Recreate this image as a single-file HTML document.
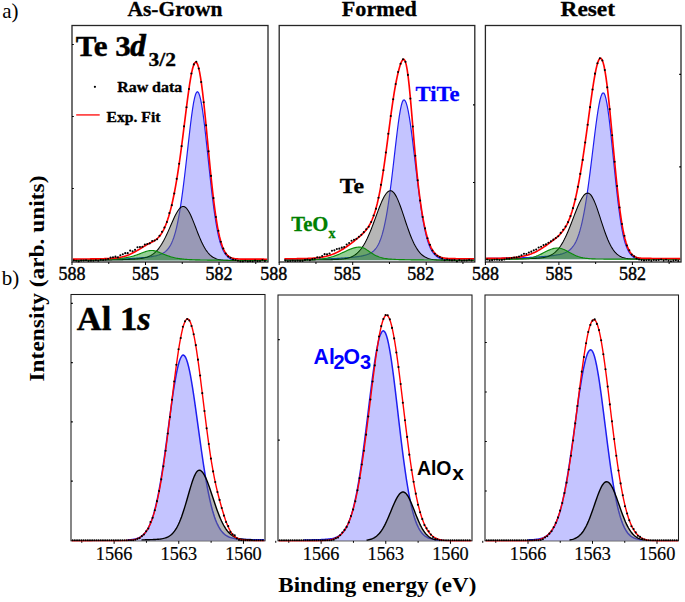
<!DOCTYPE html>
<html><head><meta charset="utf-8"><style>html,body{margin:0;padding:0;background:#fff;width:685px;height:602px;overflow:hidden}svg{display:block}</style></head>
<body>
<svg width="685" height="602" viewBox="0 0 685 602">
<rect width="685" height="602" fill="#fff"/>
<rect x="72.0" y="25.5" width="196" height="236.5" fill="none" stroke="#262626" stroke-width="1.3"/>
<path d="M72,262 v3.0 M108.75,262 v2 M145.5,262 v3.0 M182.25,262 v2 M219,262 v3.0 M255.75,262 v2" stroke="#000" stroke-width="1"/>
<path d="M72,188.5 h1.8 M72,116.5 h1.8 M72,44.5 h1.8" stroke="#000" stroke-width="1.2"/>
<clipPath id="cT1"><rect x="72.6" y="26.1" width="194.8" height="236.7"/></clipPath>
<g clip-path="url(#cT1)"><path d="M72.6,259.94 L73.6,259.93 L74.6,259.92 L75.6,259.91 L76.6,259.9 L77.6,259.89 L78.6,259.88 L79.6,259.87 L80.6,259.86 L81.6,259.85 L82.6,259.84 L83.6,259.82 L84.6,259.81 L85.6,259.8 L86.6,259.79 L87.6,259.77 L88.6,259.76 L89.6,259.75 L90.6,259.73 L91.6,259.72 L92.6,259.7 L93.6,259.69 L94.6,259.67 L95.6,259.66 L96.6,259.64 L97.6,259.62 L98.6,259.61 L99.6,259.59 L100.6,259.57 L101.6,259.55 L102.6,259.53 L103.6,259.51 L104.6,259.49 L105.6,259.47 L106.6,259.45 L107.6,259.42 L108.6,259.4 L109.6,259.37 L110.6,259.35 L111.6,259.32 L112.6,259.29 L113.6,259.27 L114.6,259.24 L115.6,259.21 L116.6,259.18 L117.6,259.14 L118.6,259.11 L119.6,259.07 L120.6,259.04 L121.6,259 L122.6,258.96 L123.6,258.92 L124.6,258.88 L125.6,258.83 L126.6,258.79 L127.6,258.74 L128.6,258.69 L129.6,258.64 L130.6,258.58 L131.6,258.53 L132.6,258.47 L133.6,258.4 L134.6,258.34 L135.6,258.27 L136.6,258.2 L137.6,258.13 L138.6,258.05 L139.6,257.97 L140.6,257.88 L141.6,257.79 L142.6,257.7 L143.6,257.6 L144.6,257.49 L145.6,257.38 L146.6,257.26 L147.6,257.14 L148.6,257.01 L149.6,256.87 L150.6,256.72 L151.6,256.56 L152.6,256.39 L153.6,256.2 L154.6,256 L155.6,255.79 L156.6,255.55 L157.6,255.28 L158.6,254.99 L159.6,254.66 L160.6,254.28 L161.6,253.86 L162.6,253.37 L163.6,252.8 L164.6,252.14 L165.6,251.37 L166.6,250.47 L167.6,249.41 L168.6,248.16 L169.6,246.7 L170.6,244.98 L171.6,242.98 L172.6,240.65 L173.6,237.96 L174.6,234.86 L175.6,231.31 L176.6,227.29 L177.6,222.75 L178.6,217.68 L179.6,212.06 L180.6,205.89 L181.6,199.17 L182.6,191.93 L183.6,184.2 L184.6,176.04 L185.6,167.53 L186.6,158.76 L187.6,149.86 L188.6,140.95 L189.6,132.21 L190.6,123.8 L191.6,115.94 L192.6,108.84 L193.6,102.72 L194.6,97.79 L195.6,94.24 L196.6,92.22 L197.6,91.81 L198.6,92.9 L199.6,95.42 L200.6,99.3 L201.6,104.44 L202.6,110.71 L203.6,117.97 L204.6,126.05 L205.6,134.75 L206.6,143.91 L207.6,153.33 L208.6,162.83 L209.6,172.26 L210.6,181.46 L211.6,190.31 L212.6,198.71 L213.6,206.57 L214.6,213.83 L215.6,220.47 L216.6,226.45 L217.6,231.79 L218.6,236.5 L219.6,240.39 L220.6,243.75 L221.6,246.65 L222.6,249.15 L223.6,251.26 L224.6,253.03 L225.6,254.5 L226.6,255.7 L227.6,256.68 L228.6,257.6 L229.6,258.33 L230.6,258.9 L231.6,259.33 L232.6,259.66 L233.6,259.91 L234.6,260.08 L235.6,260.2 L236.6,260.28 L237.6,260.35 L238.6,260.39 L239.6,260.42 L240.6,260.45 L241.6,260.46 L242.6,260.48 L243.6,260.48 L244.6,260.49 L245.6,260.49 L246.6,260.5 L247.6,260.5 L248.6,260.5 L249.6,260.5 L250.6,260.5 L251.6,260.5 L252.6,260.5 L253.6,260.5 L254.6,260.5 L255.6,260.5 L256.6,260.5 L257.6,260.5 L258.6,260.5 L259.6,260.5 L260.6,260.5 L261.6,260.5 L262.6,260.5 L263.6,260.5 L264.6,260.5 L265.6,260.5 L266.6,260.5 L267.4,260.5 L267.4,260.5 L72.6,260.5 Z" fill="#c4c4ff"/>
<path d="M72.6,259.94 L73.6,259.93 L74.6,259.92 L75.6,259.91 L76.6,259.9 L77.6,259.89 L78.6,259.88 L79.6,259.87 L80.6,259.86 L81.6,259.85 L82.6,259.84 L83.6,259.82 L84.6,259.81 L85.6,259.8 L86.6,259.79 L87.6,259.77 L88.6,259.76 L89.6,259.75 L90.6,259.73 L91.6,259.72 L92.6,259.7 L93.6,259.69 L94.6,259.67 L95.6,259.66 L96.6,259.64 L97.6,259.62 L98.6,259.61 L99.6,259.59 L100.6,259.57 L101.6,259.55 L102.6,259.53 L103.6,259.51 L104.6,259.49 L105.6,259.47 L106.6,259.45 L107.6,259.42 L108.6,259.4 L109.6,259.37 L110.6,259.35 L111.6,259.32 L112.6,259.29 L113.6,259.27 L114.6,259.24 L115.6,259.21 L116.6,259.18 L117.6,259.14 L118.6,259.11 L119.6,259.07 L120.6,259.04 L121.6,259 L122.6,258.96 L123.6,258.92 L124.6,258.88 L125.6,258.83 L126.6,258.79 L127.6,258.74 L128.6,258.69 L129.6,258.64 L130.6,258.58 L131.6,258.53 L132.6,258.47 L133.6,258.4 L134.6,258.34 L135.6,258.27 L136.6,258.2 L137.6,258.13 L138.6,258.05 L139.6,257.97 L140.6,257.88 L141.6,257.79 L142.6,257.7 L143.6,257.6 L144.6,257.49 L145.6,257.38 L146.6,257.26 L147.6,257.14 L148.6,257.01 L149.6,256.87 L150.6,256.72 L151.6,256.56 L152.6,256.39 L153.6,256.2 L154.6,256 L155.6,255.79 L156.6,255.55 L157.6,255.28 L158.6,254.99 L159.6,254.66 L160.6,254.28 L161.6,253.86 L162.6,253.37 L163.6,252.8 L164.6,252.14 L165.6,251.37 L166.6,250.47 L167.6,249.41 L168.6,248.16 L169.6,246.7 L170.6,244.98 L171.6,242.98 L172.6,240.65 L173.6,237.96 L174.6,234.86 L175.6,231.31 L176.6,227.29 L177.6,222.75 L178.6,217.68 L179.6,212.06 L180.6,205.89 L181.6,199.17 L182.6,191.93 L183.6,184.2 L184.6,176.04 L185.6,167.53 L186.6,158.76 L187.6,149.86 L188.6,140.95 L189.6,132.21 L190.6,123.8 L191.6,115.94 L192.6,108.84 L193.6,102.72 L194.6,97.79 L195.6,94.24 L196.6,92.22 L197.6,91.81 L198.6,92.9 L199.6,95.42 L200.6,99.3 L201.6,104.44 L202.6,110.71 L203.6,117.97 L204.6,126.05 L205.6,134.75 L206.6,143.91 L207.6,153.33 L208.6,162.83 L209.6,172.26 L210.6,181.46 L211.6,190.31 L212.6,198.71 L213.6,206.57 L214.6,213.83 L215.6,220.47 L216.6,226.45 L217.6,231.79 L218.6,236.5 L219.6,240.39 L220.6,243.75 L221.6,246.65 L222.6,249.15 L223.6,251.26 L224.6,253.03 L225.6,254.5 L226.6,255.7 L227.6,256.68 L228.6,257.6 L229.6,258.33 L230.6,258.9 L231.6,259.33 L232.6,259.66 L233.6,259.91 L234.6,260.08 L235.6,260.2 L236.6,260.28 L237.6,260.35 L238.6,260.39 L239.6,260.42 L240.6,260.45 L241.6,260.46 L242.6,260.48 L243.6,260.48 L244.6,260.49 L245.6,260.49 L246.6,260.5 L247.6,260.5 L248.6,260.5 L249.6,260.5 L250.6,260.5 L251.6,260.5 L252.6,260.5 L253.6,260.5 L254.6,260.5 L255.6,260.5 L256.6,260.5 L257.6,260.5 L258.6,260.5 L259.6,260.5 L260.6,260.5 L261.6,260.5 L262.6,260.5 L263.6,260.5 L264.6,260.5 L265.6,260.5 L266.6,260.5 L267.4,260.5" fill="none" stroke="#1e1ef0" stroke-width="1.2"/>
<path d="M72.6,260.22 L73.6,260.22 L74.6,260.21 L75.6,260.21 L76.6,260.2 L77.6,260.2 L78.6,260.19 L79.6,260.19 L80.6,260.18 L81.6,260.17 L82.6,260.17 L83.6,260.16 L84.6,260.15 L85.6,260.15 L86.6,260.14 L87.6,260.13 L88.6,260.12 L89.6,260.12 L90.6,260.11 L91.6,260.1 L92.6,260.09 L93.6,260.08 L94.6,260.07 L95.6,260.06 L96.6,260.05 L97.6,260.04 L98.6,260.03 L99.6,260.02 L100.6,260.01 L101.6,260 L102.6,259.99 L103.6,259.98 L104.6,259.96 L105.6,259.95 L106.6,259.94 L107.6,259.92 L108.6,259.91 L109.6,259.89 L110.6,259.88 L111.6,259.86 L112.6,259.84 L113.6,259.82 L114.6,259.8 L115.6,259.78 L116.6,259.76 L117.6,259.74 L118.6,259.72 L119.6,259.7 L120.6,259.67 L121.6,259.65 L122.6,259.62 L123.6,259.59 L124.6,259.56 L125.6,259.53 L126.6,259.49 L127.6,259.46 L128.6,259.42 L129.6,259.38 L130.6,259.33 L131.6,259.29 L132.6,259.23 L133.6,259.18 L134.6,259.11 L135.6,259.04 L136.6,258.96 L137.6,258.88 L138.6,258.78 L139.6,258.66 L140.6,258.54 L141.6,258.39 L142.6,258.22 L143.6,258.03 L144.6,257.81 L145.6,257.55 L146.6,257.26 L147.6,256.93 L148.6,256.54 L149.6,256.1 L150.6,255.6 L151.6,255.04 L152.6,254.4 L153.6,253.67 L154.6,252.86 L155.6,251.96 L156.6,250.95 L157.6,249.84 L158.6,248.62 L159.6,247.28 L160.6,245.83 L161.6,244.26 L162.6,242.58 L163.6,240.78 L164.6,238.87 L165.6,236.87 L166.6,234.77 L167.6,232.6 L168.6,230.37 L169.6,228.09 L170.6,225.79 L171.6,223.48 L172.6,221.2 L173.6,218.97 L174.6,216.83 L175.6,214.8 L176.6,212.92 L177.6,211.22 L178.6,209.73 L179.6,208.5 L180.6,207.53 L181.6,206.87 L182.6,206.51 L183.6,206.49 L184.6,206.8 L185.6,207.44 L186.6,208.41 L187.6,209.68 L188.6,211.24 L189.6,213.04 L190.6,215.07 L191.6,217.28 L192.6,219.65 L193.6,222.13 L194.6,224.68 L195.6,227.28 L196.6,229.88 L197.6,232.46 L198.6,234.98 L199.6,237.42 L200.6,239.76 L201.6,241.98 L202.6,244.06 L203.6,246 L204.6,247.8 L205.6,249.44 L206.6,250.93 L207.6,252.27 L208.6,253.47 L209.6,254.53 L210.6,255.46 L211.6,256.28 L212.6,256.98 L213.6,257.59 L214.6,258.1 L215.6,258.54 L216.6,258.91 L217.6,259.22 L218.6,259.47 L219.6,259.68 L220.6,259.85 L221.6,259.99 L222.6,260.1 L223.6,260.19 L224.6,260.26 L225.6,260.32 L226.6,260.36 L227.6,260.39 L228.6,260.42 L229.6,260.44 L230.6,260.46 L231.6,260.47 L232.6,260.48 L233.6,260.48 L234.6,260.49 L235.6,260.49 L236.6,260.49 L237.6,260.5 L238.6,260.5 L239.6,260.5 L240.6,260.5 L241.6,260.5 L242.6,260.5 L243.6,260.5 L244.6,260.5 L245.6,260.5 L246.6,260.5 L247.6,260.5 L248.6,260.5 L249.6,260.5 L250.6,260.5 L251.6,260.5 L252.6,260.5 L253.6,260.5 L254.6,260.5 L255.6,260.5 L256.6,260.5 L257.6,260.5 L258.6,260.5 L259.6,260.5 L260.6,260.5 L261.6,260.5 L262.6,260.5 L263.6,260.5 L264.6,260.5 L265.6,260.5 L266.6,260.5 L267.4,260.5 L267.4,260.5 L72.6,260.5 Z" fill="rgba(110,110,110,0.5)"/>
<path d="M72.6,260.22 L73.6,260.22 L74.6,260.21 L75.6,260.21 L76.6,260.2 L77.6,260.2 L78.6,260.19 L79.6,260.19 L80.6,260.18 L81.6,260.17 L82.6,260.17 L83.6,260.16 L84.6,260.15 L85.6,260.15 L86.6,260.14 L87.6,260.13 L88.6,260.12 L89.6,260.12 L90.6,260.11 L91.6,260.1 L92.6,260.09 L93.6,260.08 L94.6,260.07 L95.6,260.06 L96.6,260.05 L97.6,260.04 L98.6,260.03 L99.6,260.02 L100.6,260.01 L101.6,260 L102.6,259.99 L103.6,259.98 L104.6,259.96 L105.6,259.95 L106.6,259.94 L107.6,259.92 L108.6,259.91 L109.6,259.89 L110.6,259.88 L111.6,259.86 L112.6,259.84 L113.6,259.82 L114.6,259.8 L115.6,259.78 L116.6,259.76 L117.6,259.74 L118.6,259.72 L119.6,259.7 L120.6,259.67 L121.6,259.65 L122.6,259.62 L123.6,259.59 L124.6,259.56 L125.6,259.53 L126.6,259.49 L127.6,259.46 L128.6,259.42 L129.6,259.38 L130.6,259.33 L131.6,259.29 L132.6,259.23 L133.6,259.18 L134.6,259.11 L135.6,259.04 L136.6,258.96 L137.6,258.88 L138.6,258.78 L139.6,258.66 L140.6,258.54 L141.6,258.39 L142.6,258.22 L143.6,258.03 L144.6,257.81 L145.6,257.55 L146.6,257.26 L147.6,256.93 L148.6,256.54 L149.6,256.1 L150.6,255.6 L151.6,255.04 L152.6,254.4 L153.6,253.67 L154.6,252.86 L155.6,251.96 L156.6,250.95 L157.6,249.84 L158.6,248.62 L159.6,247.28 L160.6,245.83 L161.6,244.26 L162.6,242.58 L163.6,240.78 L164.6,238.87 L165.6,236.87 L166.6,234.77 L167.6,232.6 L168.6,230.37 L169.6,228.09 L170.6,225.79 L171.6,223.48 L172.6,221.2 L173.6,218.97 L174.6,216.83 L175.6,214.8 L176.6,212.92 L177.6,211.22 L178.6,209.73 L179.6,208.5 L180.6,207.53 L181.6,206.87 L182.6,206.51 L183.6,206.49 L184.6,206.8 L185.6,207.44 L186.6,208.41 L187.6,209.68 L188.6,211.24 L189.6,213.04 L190.6,215.07 L191.6,217.28 L192.6,219.65 L193.6,222.13 L194.6,224.68 L195.6,227.28 L196.6,229.88 L197.6,232.46 L198.6,234.98 L199.6,237.42 L200.6,239.76 L201.6,241.98 L202.6,244.06 L203.6,246 L204.6,247.8 L205.6,249.44 L206.6,250.93 L207.6,252.27 L208.6,253.47 L209.6,254.53 L210.6,255.46 L211.6,256.28 L212.6,256.98 L213.6,257.59 L214.6,258.1 L215.6,258.54 L216.6,258.91 L217.6,259.22 L218.6,259.47 L219.6,259.68 L220.6,259.85 L221.6,259.99 L222.6,260.1 L223.6,260.19 L224.6,260.26 L225.6,260.32 L226.6,260.36 L227.6,260.39 L228.6,260.42 L229.6,260.44 L230.6,260.46 L231.6,260.47 L232.6,260.48 L233.6,260.48 L234.6,260.49 L235.6,260.49 L236.6,260.49 L237.6,260.5 L238.6,260.5 L239.6,260.5 L240.6,260.5 L241.6,260.5 L242.6,260.5 L243.6,260.5 L244.6,260.5 L245.6,260.5 L246.6,260.5 L247.6,260.5 L248.6,260.5 L249.6,260.5 L250.6,260.5 L251.6,260.5 L252.6,260.5 L253.6,260.5 L254.6,260.5 L255.6,260.5 L256.6,260.5 L257.6,260.5 L258.6,260.5 L259.6,260.5 L260.6,260.5 L261.6,260.5 L262.6,260.5 L263.6,260.5 L264.6,260.5 L265.6,260.5 L266.6,260.5 L267.4,260.5" fill="none" stroke="#000" stroke-width="1.05"/>
<path d="M72.6,260.13 L73.6,260.12 L74.6,260.11 L75.6,260.1 L76.6,260.09 L77.6,260.08 L78.6,260.06 L79.6,260.05 L80.6,260.04 L81.6,260.03 L82.6,260.01 L83.6,260 L84.6,259.99 L85.6,259.97 L86.6,259.96 L87.6,259.94 L88.6,259.92 L89.6,259.91 L90.6,259.89 L91.6,259.87 L92.6,259.85 L93.6,259.83 L94.6,259.81 L95.6,259.78 L96.6,259.76 L97.6,259.73 L98.6,259.71 L99.6,259.68 L100.6,259.65 L101.6,259.62 L102.6,259.58 L103.6,259.55 L104.6,259.51 L105.6,259.47 L106.6,259.43 L107.6,259.38 L108.6,259.34 L109.6,259.29 L110.6,259.23 L111.6,259.17 L112.6,259.11 L113.6,259.05 L114.6,258.97 L115.6,258.9 L116.6,258.82 L117.6,258.73 L118.6,258.63 L119.6,258.53 L120.6,258.42 L121.6,258.3 L122.6,258.18 L123.6,258.04 L124.6,257.89 L125.6,257.73 L126.6,257.55 L127.6,257.37 L128.6,257.17 L129.6,256.95 L130.6,256.72 L131.6,256.47 L132.6,256.21 L133.6,255.93 L134.6,255.63 L135.6,255.31 L136.6,254.97 L137.6,254.62 L138.6,254.25 L139.6,253.87 L140.6,253.48 L141.6,253.08 L142.6,252.69 L143.6,252.3 L144.6,251.93 L145.6,251.58 L146.6,251.26 L147.6,250.99 L148.6,250.76 L149.6,250.6 L150.6,250.51 L151.6,250.49 L152.6,250.54 L153.6,250.66 L154.6,250.85 L155.6,251.09 L156.6,251.39 L157.6,251.73 L158.6,252.1 L159.6,252.5 L160.6,252.91 L161.6,253.33 L162.6,253.75 L163.6,254.17 L164.6,254.58 L165.6,254.98 L166.6,255.36 L167.6,255.73 L168.6,256.08 L169.6,256.41 L170.6,256.73 L171.6,257.02 L172.6,257.29 L173.6,257.54 L174.6,257.78 L175.6,257.99 L176.6,258.19 L177.6,258.37 L178.6,258.53 L179.6,258.68 L180.6,258.82 L181.6,258.94 L182.6,259.05 L183.6,259.15 L184.6,259.24 L185.6,259.32 L186.6,259.4 L187.6,259.46 L188.6,259.52 L189.6,259.58 L190.6,259.63 L191.6,259.67 L192.6,259.71 L193.6,259.75 L194.6,259.79 L195.6,259.82 L196.6,259.85 L197.6,259.87 L198.6,259.9 L199.6,259.92 L200.6,259.95 L201.6,259.97 L202.6,259.99 L203.6,260 L204.6,260.02 L205.6,260.04 L206.6,260.05 L207.6,260.07 L208.6,260.08 L209.6,260.1 L210.6,260.11 L211.6,260.12 L212.6,260.13 L213.6,260.14 L214.6,260.15 L215.6,260.16 L216.6,260.17 L217.6,260.18 L218.6,260.19 L219.6,260.2 L220.6,260.21 L221.6,260.22 L222.6,260.22 L223.6,260.23 L224.6,260.24 L225.6,260.25 L226.6,260.25 L227.6,260.26 L228.6,260.26 L229.6,260.27 L230.6,260.28 L231.6,260.28 L232.6,260.29 L233.6,260.29 L234.6,260.3 L235.6,260.3 L236.6,260.3 L237.6,260.31 L238.6,260.31 L239.6,260.32 L240.6,260.32 L241.6,260.33 L242.6,260.33 L243.6,260.33 L244.6,260.34 L245.6,260.34 L246.6,260.34 L247.6,260.35 L248.6,260.35 L249.6,260.35 L250.6,260.35 L251.6,260.36 L252.6,260.36 L253.6,260.36 L254.6,260.37 L255.6,260.37 L256.6,260.37 L257.6,260.37 L258.6,260.38 L259.6,260.38 L260.6,260.38 L261.6,260.38 L262.6,260.38 L263.6,260.39 L264.6,260.39 L265.6,260.39 L266.6,260.39 L267.4,260.39 L267.4,260.5 L72.6,260.5 Z" fill="rgba(0,140,0,0.42)"/>
<path d="M72.6,260.13 L73.6,260.12 L74.6,260.11 L75.6,260.1 L76.6,260.09 L77.6,260.08 L78.6,260.06 L79.6,260.05 L80.6,260.04 L81.6,260.03 L82.6,260.01 L83.6,260 L84.6,259.99 L85.6,259.97 L86.6,259.96 L87.6,259.94 L88.6,259.92 L89.6,259.91 L90.6,259.89 L91.6,259.87 L92.6,259.85 L93.6,259.83 L94.6,259.81 L95.6,259.78 L96.6,259.76 L97.6,259.73 L98.6,259.71 L99.6,259.68 L100.6,259.65 L101.6,259.62 L102.6,259.58 L103.6,259.55 L104.6,259.51 L105.6,259.47 L106.6,259.43 L107.6,259.38 L108.6,259.34 L109.6,259.29 L110.6,259.23 L111.6,259.17 L112.6,259.11 L113.6,259.05 L114.6,258.97 L115.6,258.9 L116.6,258.82 L117.6,258.73 L118.6,258.63 L119.6,258.53 L120.6,258.42 L121.6,258.3 L122.6,258.18 L123.6,258.04 L124.6,257.89 L125.6,257.73 L126.6,257.55 L127.6,257.37 L128.6,257.17 L129.6,256.95 L130.6,256.72 L131.6,256.47 L132.6,256.21 L133.6,255.93 L134.6,255.63 L135.6,255.31 L136.6,254.97 L137.6,254.62 L138.6,254.25 L139.6,253.87 L140.6,253.48 L141.6,253.08 L142.6,252.69 L143.6,252.3 L144.6,251.93 L145.6,251.58 L146.6,251.26 L147.6,250.99 L148.6,250.76 L149.6,250.6 L150.6,250.51 L151.6,250.49 L152.6,250.54 L153.6,250.66 L154.6,250.85 L155.6,251.09 L156.6,251.39 L157.6,251.73 L158.6,252.1 L159.6,252.5 L160.6,252.91 L161.6,253.33 L162.6,253.75 L163.6,254.17 L164.6,254.58 L165.6,254.98 L166.6,255.36 L167.6,255.73 L168.6,256.08 L169.6,256.41 L170.6,256.73 L171.6,257.02 L172.6,257.29 L173.6,257.54 L174.6,257.78 L175.6,257.99 L176.6,258.19 L177.6,258.37 L178.6,258.53 L179.6,258.68 L180.6,258.82 L181.6,258.94 L182.6,259.05 L183.6,259.15 L184.6,259.24 L185.6,259.32 L186.6,259.4 L187.6,259.46 L188.6,259.52 L189.6,259.58 L190.6,259.63 L191.6,259.67 L192.6,259.71 L193.6,259.75 L194.6,259.79 L195.6,259.82 L196.6,259.85 L197.6,259.87 L198.6,259.9 L199.6,259.92 L200.6,259.95 L201.6,259.97 L202.6,259.99 L203.6,260 L204.6,260.02 L205.6,260.04 L206.6,260.05 L207.6,260.07 L208.6,260.08 L209.6,260.1 L210.6,260.11 L211.6,260.12 L212.6,260.13 L213.6,260.14 L214.6,260.15 L215.6,260.16 L216.6,260.17 L217.6,260.18 L218.6,260.19 L219.6,260.2 L220.6,260.21 L221.6,260.22 L222.6,260.22 L223.6,260.23 L224.6,260.24 L225.6,260.25 L226.6,260.25 L227.6,260.26 L228.6,260.26 L229.6,260.27 L230.6,260.28 L231.6,260.28 L232.6,260.29 L233.6,260.29 L234.6,260.3 L235.6,260.3 L236.6,260.3 L237.6,260.31 L238.6,260.31 L239.6,260.32 L240.6,260.32 L241.6,260.33 L242.6,260.33 L243.6,260.33 L244.6,260.34 L245.6,260.34 L246.6,260.34 L247.6,260.35 L248.6,260.35 L249.6,260.35 L250.6,260.35 L251.6,260.36 L252.6,260.36 L253.6,260.36 L254.6,260.37 L255.6,260.37 L256.6,260.37 L257.6,260.37 L258.6,260.38 L259.6,260.38 L260.6,260.38 L261.6,260.38 L262.6,260.38 L263.6,260.39 L264.6,260.39 L265.6,260.39 L266.6,260.39 L267.4,260.39" fill="none" stroke="#0a8a0a" stroke-width="1.15"/>
<path d="M72.6,259.08 L73.6,259.07 L74.6,259.07 L75.6,259.06 L76.6,259.06 L77.6,259.05 L78.6,259.04 L79.6,259.04 L80.6,259.03 L81.6,259.02 L82.6,259.01 L83.6,259 L84.6,259 L85.6,258.99 L86.6,258.98 L87.6,258.97 L88.6,258.96 L89.6,258.95 L90.6,258.94 L91.6,258.92 L92.6,258.91 L93.6,258.9 L94.6,258.88 L95.6,258.87 L96.6,258.85 L97.6,258.84 L98.6,258.82 L99.6,258.8 L100.6,258.78 L101.6,258.75 L102.6,258.73 L103.6,258.7 L104.6,258.67 L105.6,258.64 L106.6,258.6 L107.6,258.56 L108.6,258.51 L109.6,258.46 L110.6,258.4 L111.6,258.34 L112.6,258.26 L113.6,258.18 L114.6,258.08 L115.6,257.98 L116.6,257.86 L117.6,257.73 L118.6,257.58 L119.6,257.41 L120.6,257.22 L121.6,257.02 L122.6,256.79 L123.6,256.54 L124.6,256.26 L125.6,255.96 L126.6,255.63 L127.6,255.28 L128.6,254.9 L129.6,254.49 L130.6,254.05 L131.6,253.58 L132.6,253.09 L133.6,252.58 L134.6,252.04 L135.6,251.48 L136.6,250.91 L137.6,250.31 L138.6,249.71 L139.6,249.09 L140.6,248.48 L141.6,247.86 L142.6,247.24 L143.6,246.63 L144.6,246.04 L145.6,245.46 L146.6,244.89 L147.6,244.35 L148.6,243.82 L149.6,243.3 L150.6,242.79 L151.6,242.28 L152.6,241.75 L153.6,241.19 L154.6,240.58 L155.6,239.9 L156.6,239.14 L157.6,238.27 L158.6,237.27 L159.6,236.13 L160.6,234.82 L161.6,233.34 L162.6,231.66 L163.6,229.77 L164.6,227.65 L165.6,225.3 L166.6,222.71 L167.6,219.85 L168.6,216.72 L169.6,213.31 L170.6,209.6 L171.6,205.58 L172.6,201.23 L173.6,196.54 L174.6,191.51 L175.6,186.11 L176.6,180.34 L177.6,174.2 L178.6,167.69 L179.6,160.82 L180.6,153.61 L181.6,146.11 L182.6,138.35 L183.6,130.4 L184.6,122.36 L185.6,114.3 L186.6,106.35 L187.6,98.63 L188.6,91.28 L189.6,84.45 L190.6,78.29 L191.6,72.93 L192.6,68.52 L193.6,65.2 L194.6,63.05 L195.6,62.18 L196.6,62.63 L197.6,64.44 L198.6,67.6 L199.6,72.08 L200.6,77.79 L201.6,84.65 L202.6,92.52 L203.6,101.27 L204.6,110.72 L205.6,120.7 L206.6,131.03 L207.6,141.54 L208.6,152.05 L209.6,162.42 L210.6,172.49 L211.6,182.14 L212.6,191.28 L213.6,199.82 L214.6,207.72 L215.6,214.93 L216.6,221.45 L217.6,227.27 L218.6,232.41 L219.6,236.91 L220.6,240.81 L221.6,244.14 L222.6,246.97 L223.6,249.35 L224.6,251.33 L225.6,252.96 L226.6,254.29 L227.6,255.36 L228.6,256.22 L229.6,256.9 L230.6,257.44 L231.6,257.85 L232.6,258.18 L233.6,258.42 L234.6,258.61 L235.6,258.75 L236.6,258.86 L237.6,258.94 L238.6,259 L239.6,259.04 L240.6,259.07 L241.6,259.09 L242.6,259.11 L243.6,259.13 L244.6,259.14 L245.6,259.14 L246.6,259.15 L247.6,259.15 L248.6,259.16 L249.6,259.16 L250.6,259.16 L251.6,259.17 L252.6,259.17 L253.6,259.17 L254.6,259.18 L255.6,259.18 L256.6,259.18 L257.6,259.18 L258.6,259.18 L259.6,259.19 L260.6,259.19 L261.6,259.19 L262.6,259.19 L263.6,259.19 L264.6,259.2 L265.6,259.2 L266.6,259.2 L267.4,259.2" fill="none" stroke="#f00" stroke-width="1.65"/>
<g fill="#000"><circle cx="73.8" cy="260.39" r="1.05"/><circle cx="76.25" cy="260.73" r="1.05"/><circle cx="78.7" cy="261.4" r="1.05"/><circle cx="81.15" cy="260.58" r="1.05"/><circle cx="83.6" cy="260.44" r="1.05"/><circle cx="86.05" cy="260.24" r="1.05"/><circle cx="88.5" cy="261.05" r="1.05"/><circle cx="90.95" cy="260.63" r="1.05"/><circle cx="93.4" cy="260.74" r="1.05"/><circle cx="95.85" cy="260.32" r="1.05"/><circle cx="98.3" cy="260.72" r="1.05"/><circle cx="100.75" cy="259.75" r="1.05"/><circle cx="103.2" cy="260.05" r="1.05"/><circle cx="105.65" cy="259.61" r="1.05"/><circle cx="108.1" cy="259.07" r="1.05"/><circle cx="110.55" cy="257.59" r="1.05"/><circle cx="113" cy="257.32" r="1.05"/><circle cx="115.45" cy="256.63" r="1.05"/><circle cx="117.9" cy="257.33" r="1.05"/><circle cx="120.35" cy="255.28" r="1.05"/><circle cx="122.8" cy="254.21" r="1.05"/><circle cx="125.25" cy="253.14" r="1.05"/><circle cx="127.7" cy="253.16" r="1.05"/><circle cx="130.15" cy="250.6" r="1.05"/><circle cx="132.6" cy="251.2" r="1.05"/><circle cx="135.05" cy="249.87" r="1.05"/><circle cx="137.5" cy="247.23" r="1.05"/><circle cx="139.95" cy="247" r="1.05"/><circle cx="142.4" cy="246.74" r="1.05"/><circle cx="144.85" cy="244.57" r="1.05"/><circle cx="147.3" cy="243.94" r="1.05"/><circle cx="149.75" cy="243.34" r="1.05"/><circle cx="152.2" cy="240.95" r="1.05"/><circle cx="154.65" cy="240.45" r="1.05"/><circle cx="157.1" cy="239.22" r="1.05"/><circle cx="159.55" cy="235.74" r="1.05"/><circle cx="162" cy="231.87" r="1.05"/><circle cx="164.45" cy="227.49" r="1.05"/><circle cx="166.9" cy="222.02" r="1.05"/><circle cx="169.35" cy="213.12" r="1.05"/><circle cx="171.8" cy="205.14" r="1.05"/><circle cx="174.25" cy="193.46" r="1.05"/><circle cx="176.7" cy="178.85" r="1.05"/><circle cx="179.15" cy="163.74" r="1.05"/><circle cx="181.6" cy="146.17" r="1.05"/><circle cx="184.05" cy="126.35" r="1.05"/><circle cx="186.5" cy="107.25" r="1.05"/><circle cx="188.95" cy="88.95" r="1.05"/><circle cx="191.4" cy="73.54" r="1.05"/><circle cx="193.85" cy="64.38" r="1.05"/><circle cx="196.3" cy="61.75" r="1.05"/><circle cx="198.75" cy="68.57" r="1.05"/><circle cx="201.2" cy="81.99" r="1.05"/><circle cx="203.65" cy="102.2" r="1.05"/><circle cx="206.1" cy="125.33" r="1.05"/><circle cx="208.55" cy="151.37" r="1.05"/><circle cx="211" cy="175.88" r="1.05"/><circle cx="213.45" cy="198.12" r="1.05"/><circle cx="215.9" cy="216.99" r="1.05"/><circle cx="218.35" cy="230.79" r="1.05"/><circle cx="220.8" cy="241.71" r="1.05"/><circle cx="223.25" cy="248.46" r="1.05"/><circle cx="225.7" cy="253.43" r="1.05"/><circle cx="228.15" cy="256.44" r="1.05"/><circle cx="230.6" cy="257.82" r="1.05"/><circle cx="233.05" cy="259.49" r="1.05"/><circle cx="235.5" cy="259.99" r="1.05"/><circle cx="237.95" cy="260.75" r="1.05"/><circle cx="240.4" cy="261.4" r="1.05"/><circle cx="242.85" cy="261.4" r="1.05"/><circle cx="245.3" cy="260.69" r="1.05"/><circle cx="247.75" cy="261.4" r="1.05"/><circle cx="250.2" cy="261.15" r="1.05"/><circle cx="252.65" cy="261.4" r="1.05"/><circle cx="255.1" cy="260.63" r="1.05"/><circle cx="257.55" cy="261.14" r="1.05"/><circle cx="260" cy="260.96" r="1.05"/><circle cx="262.45" cy="259.98" r="1.05"/><circle cx="264.9" cy="260.92" r="1.05"/></g></g>
<rect x="279.2" y="25.5" width="195.6" height="236.5" fill="none" stroke="#262626" stroke-width="1.3"/>
<path d="M279.2,262 v3.0 M315.95,262 v2 M352.7,262 v3.0 M389.45,262 v2 M426.2,262 v3.0 M462.95,262 v2" stroke="#000" stroke-width="1"/>
<path d="M474.8,182.5 h-1.8 M474.8,104.8 h-1.8" stroke="#000" stroke-width="1.2"/>
<clipPath id="cT2"><rect x="284.2" y="26.1" width="190" height="236.7"/></clipPath>
<g clip-path="url(#cT2)"><path d="M284.2,259.64 L285.2,259.63 L286.2,259.62 L287.2,259.61 L288.2,259.6 L289.2,259.59 L290.2,259.58 L291.2,259.57 L292.2,259.55 L293.2,259.54 L294.2,259.53 L295.2,259.52 L296.2,259.51 L297.2,259.49 L298.2,259.48 L299.2,259.47 L300.2,259.45 L301.2,259.44 L302.2,259.42 L303.2,259.41 L304.2,259.39 L305.2,259.38 L306.2,259.36 L307.2,259.34 L308.2,259.32 L309.2,259.31 L310.2,259.29 L311.2,259.27 L312.2,259.25 L313.2,259.23 L314.2,259.21 L315.2,259.18 L316.2,259.16 L317.2,259.14 L318.2,259.11 L319.2,259.09 L320.2,259.06 L321.2,259.03 L322.2,259.01 L323.2,258.98 L324.2,258.95 L325.2,258.92 L326.2,258.88 L327.2,258.85 L328.2,258.81 L329.2,258.78 L330.2,258.74 L331.2,258.7 L332.2,258.66 L333.2,258.62 L334.2,258.57 L335.2,258.53 L336.2,258.48 L337.2,258.43 L338.2,258.38 L339.2,258.32 L340.2,258.26 L341.2,258.2 L342.2,258.14 L343.2,258.08 L344.2,258.01 L345.2,257.94 L346.2,257.86 L347.2,257.78 L348.2,257.7 L349.2,257.61 L350.2,257.52 L351.2,257.42 L352.2,257.32 L353.2,257.21 L354.2,257.09 L355.2,256.97 L356.2,256.84 L357.2,256.7 L358.2,256.56 L359.2,256.4 L360.2,256.23 L361.2,256.05 L362.2,255.85 L363.2,255.64 L364.2,255.4 L365.2,255.14 L366.2,254.85 L367.2,254.53 L368.2,254.16 L369.2,253.73 L370.2,253.25 L371.2,252.68 L372.2,252.02 L373.2,251.25 L374.2,250.34 L375.2,249.27 L376.2,248.01 L377.2,246.53 L378.2,244.78 L379.2,242.74 L380.2,240.35 L381.2,237.59 L382.2,234.41 L383.2,230.77 L384.2,226.64 L385.2,221.98 L386.2,216.79 L387.2,211.03 L388.2,204.73 L389.2,197.88 L390.2,190.53 L391.2,182.73 L392.2,174.54 L393.2,166.05 L394.2,157.38 L395.2,148.67 L396.2,140.07 L397.2,131.77 L398.2,123.97 L399.2,116.9 L400.2,110.78 L401.2,105.84 L402.2,102.28 L403.2,100.25 L404.2,99.84 L405.2,100.81 L406.2,103.01 L407.2,106.4 L408.2,110.9 L409.2,116.39 L410.2,122.75 L411.2,129.83 L412.2,137.5 L413.2,145.59 L414.2,153.95 L415.2,162.45 L416.2,170.94 L417.2,179.27 L418.2,186.86 L419.2,194.58 L420.2,201.98 L421.2,208.9 L422.2,215.29 L423.2,221.14 L424.2,226.45 L425.2,231.23 L426.2,235.49 L427.2,239.24 L428.2,242.51 L429.2,245.33 L430.2,247.74 L431.2,249.78 L432.2,251.5 L433.2,252.95 L434.2,254.15 L435.2,255.15 L436.2,255.98 L437.2,256.69 L438.2,257.36 L439.2,257.89 L440.2,258.32 L441.2,258.65 L442.2,258.9 L443.2,259.1 L444.2,259.26 L445.2,259.38 L446.2,259.46 L447.2,259.53 L448.2,259.58 L449.2,259.63 L450.2,259.66 L451.2,259.69 L452.2,259.72 L453.2,259.74 L454.2,259.76 L455.2,259.78 L456.2,259.8 L457.2,259.81 L458.2,259.83 L459.2,259.84 L460.2,259.85 L461.2,259.86 L462.2,259.88 L463.2,259.89 L464.2,259.9 L465.2,259.91 L466.2,259.91 L467.2,259.92 L468.2,259.93 L469.2,259.94 L470.2,259.95 L471.2,259.95 L472.2,259.96 L473.2,259.97 L474.2,259.97 L474.2,260.2 L284.2,260.2 Z" fill="#c4c4ff"/>
<path d="M284.2,259.64 L285.2,259.63 L286.2,259.62 L287.2,259.61 L288.2,259.6 L289.2,259.59 L290.2,259.58 L291.2,259.57 L292.2,259.55 L293.2,259.54 L294.2,259.53 L295.2,259.52 L296.2,259.51 L297.2,259.49 L298.2,259.48 L299.2,259.47 L300.2,259.45 L301.2,259.44 L302.2,259.42 L303.2,259.41 L304.2,259.39 L305.2,259.38 L306.2,259.36 L307.2,259.34 L308.2,259.32 L309.2,259.31 L310.2,259.29 L311.2,259.27 L312.2,259.25 L313.2,259.23 L314.2,259.21 L315.2,259.18 L316.2,259.16 L317.2,259.14 L318.2,259.11 L319.2,259.09 L320.2,259.06 L321.2,259.03 L322.2,259.01 L323.2,258.98 L324.2,258.95 L325.2,258.92 L326.2,258.88 L327.2,258.85 L328.2,258.81 L329.2,258.78 L330.2,258.74 L331.2,258.7 L332.2,258.66 L333.2,258.62 L334.2,258.57 L335.2,258.53 L336.2,258.48 L337.2,258.43 L338.2,258.38 L339.2,258.32 L340.2,258.26 L341.2,258.2 L342.2,258.14 L343.2,258.08 L344.2,258.01 L345.2,257.94 L346.2,257.86 L347.2,257.78 L348.2,257.7 L349.2,257.61 L350.2,257.52 L351.2,257.42 L352.2,257.32 L353.2,257.21 L354.2,257.09 L355.2,256.97 L356.2,256.84 L357.2,256.7 L358.2,256.56 L359.2,256.4 L360.2,256.23 L361.2,256.05 L362.2,255.85 L363.2,255.64 L364.2,255.4 L365.2,255.14 L366.2,254.85 L367.2,254.53 L368.2,254.16 L369.2,253.73 L370.2,253.25 L371.2,252.68 L372.2,252.02 L373.2,251.25 L374.2,250.34 L375.2,249.27 L376.2,248.01 L377.2,246.53 L378.2,244.78 L379.2,242.74 L380.2,240.35 L381.2,237.59 L382.2,234.41 L383.2,230.77 L384.2,226.64 L385.2,221.98 L386.2,216.79 L387.2,211.03 L388.2,204.73 L389.2,197.88 L390.2,190.53 L391.2,182.73 L392.2,174.54 L393.2,166.05 L394.2,157.38 L395.2,148.67 L396.2,140.07 L397.2,131.77 L398.2,123.97 L399.2,116.9 L400.2,110.78 L401.2,105.84 L402.2,102.28 L403.2,100.25 L404.2,99.84 L405.2,100.81 L406.2,103.01 L407.2,106.4 L408.2,110.9 L409.2,116.39 L410.2,122.75 L411.2,129.83 L412.2,137.5 L413.2,145.59 L414.2,153.95 L415.2,162.45 L416.2,170.94 L417.2,179.27 L418.2,186.86 L419.2,194.58 L420.2,201.98 L421.2,208.9 L422.2,215.29 L423.2,221.14 L424.2,226.45 L425.2,231.23 L426.2,235.49 L427.2,239.24 L428.2,242.51 L429.2,245.33 L430.2,247.74 L431.2,249.78 L432.2,251.5 L433.2,252.95 L434.2,254.15 L435.2,255.15 L436.2,255.98 L437.2,256.69 L438.2,257.36 L439.2,257.89 L440.2,258.32 L441.2,258.65 L442.2,258.9 L443.2,259.1 L444.2,259.26 L445.2,259.38 L446.2,259.46 L447.2,259.53 L448.2,259.58 L449.2,259.63 L450.2,259.66 L451.2,259.69 L452.2,259.72 L453.2,259.74 L454.2,259.76 L455.2,259.78 L456.2,259.8 L457.2,259.81 L458.2,259.83 L459.2,259.84 L460.2,259.85 L461.2,259.86 L462.2,259.88 L463.2,259.89 L464.2,259.9 L465.2,259.91 L466.2,259.91 L467.2,259.92 L468.2,259.93 L469.2,259.94 L470.2,259.95 L471.2,259.95 L472.2,259.96 L473.2,259.97 L474.2,259.97" fill="none" stroke="#1e1ef0" stroke-width="1.2"/>
<path d="M284.2,260.03 L285.2,260.02 L286.2,260.02 L287.2,260.02 L288.2,260.01 L289.2,260.01 L290.2,260.01 L291.2,260 L292.2,260 L293.2,259.99 L294.2,259.99 L295.2,259.98 L296.2,259.98 L297.2,259.98 L298.2,259.97 L299.2,259.97 L300.2,259.96 L301.2,259.96 L302.2,259.95 L303.2,259.95 L304.2,259.94 L305.2,259.93 L306.2,259.93 L307.2,259.92 L308.2,259.91 L309.2,259.91 L310.2,259.9 L311.2,259.89 L312.2,259.89 L313.2,259.88 L314.2,259.87 L315.2,259.86 L316.2,259.85 L317.2,259.84 L318.2,259.83 L319.2,259.82 L320.2,259.81 L321.2,259.8 L322.2,259.79 L323.2,259.78 L324.2,259.77 L325.2,259.75 L326.2,259.74 L327.2,259.72 L328.2,259.7 L329.2,259.69 L330.2,259.67 L331.2,259.64 L332.2,259.62 L333.2,259.59 L334.2,259.56 L335.2,259.52 L336.2,259.48 L337.2,259.43 L338.2,259.37 L339.2,259.31 L340.2,259.23 L341.2,259.15 L342.2,259.04 L343.2,258.93 L344.2,258.79 L345.2,258.62 L346.2,258.43 L347.2,258.21 L348.2,257.96 L349.2,257.66 L350.2,257.32 L351.2,256.93 L352.2,256.48 L353.2,255.96 L354.2,255.38 L355.2,254.72 L356.2,253.97 L357.2,253.13 L358.2,252.2 L359.2,251.16 L360.2,250 L361.2,248.73 L362.2,247.34 L363.2,245.83 L364.2,244.18 L365.2,242.4 L366.2,240.5 L367.2,238.47 L368.2,236.31 L369.2,234.04 L370.2,231.66 L371.2,229.18 L372.2,226.61 L373.2,223.98 L374.2,221.29 L375.2,218.57 L376.2,215.83 L377.2,213.11 L378.2,210.42 L379.2,207.8 L380.2,205.27 L381.2,202.86 L382.2,200.59 L383.2,198.5 L384.2,196.6 L385.2,194.94 L386.2,193.53 L387.2,192.38 L388.2,191.53 L389.2,190.98 L390.2,190.74 L391.2,190.83 L392.2,191.27 L393.2,192.05 L394.2,193.18 L395.2,194.62 L396.2,196.37 L397.2,198.38 L398.2,200.64 L399.2,203.11 L400.2,205.76 L401.2,208.55 L402.2,211.45 L403.2,214.43 L404.2,217.44 L405.2,220.46 L406.2,223.46 L407.2,226.4 L408.2,229.27 L409.2,232.04 L410.2,234.69 L411.2,237.21 L412.2,239.59 L413.2,241.82 L414.2,243.89 L415.2,245.8 L416.2,247.55 L417.2,249.15 L418.2,250.6 L419.2,251.89 L420.2,253.05 L421.2,254.08 L422.2,254.99 L423.2,255.79 L424.2,256.48 L425.2,257.08 L426.2,257.6 L427.2,258.04 L428.2,258.42 L429.2,258.74 L430.2,259 L431.2,259.23 L432.2,259.41 L433.2,259.57 L434.2,259.69 L435.2,259.8 L436.2,259.88 L437.2,259.95 L438.2,260 L439.2,260.05 L440.2,260.08 L441.2,260.11 L442.2,260.13 L443.2,260.15 L444.2,260.16 L445.2,260.17 L446.2,260.18 L447.2,260.18 L448.2,260.19 L449.2,260.19 L450.2,260.19 L451.2,260.19 L452.2,260.2 L453.2,260.2 L454.2,260.2 L455.2,260.2 L456.2,260.2 L457.2,260.2 L458.2,260.2 L459.2,260.2 L460.2,260.2 L461.2,260.2 L462.2,260.2 L463.2,260.2 L464.2,260.2 L465.2,260.2 L466.2,260.2 L467.2,260.2 L468.2,260.2 L469.2,260.2 L470.2,260.2 L471.2,260.2 L472.2,260.2 L473.2,260.2 L474.2,260.2 L474.2,260.2 L284.2,260.2 Z" fill="rgba(110,110,110,0.5)"/>
<path d="M284.2,260.03 L285.2,260.02 L286.2,260.02 L287.2,260.02 L288.2,260.01 L289.2,260.01 L290.2,260.01 L291.2,260 L292.2,260 L293.2,259.99 L294.2,259.99 L295.2,259.98 L296.2,259.98 L297.2,259.98 L298.2,259.97 L299.2,259.97 L300.2,259.96 L301.2,259.96 L302.2,259.95 L303.2,259.95 L304.2,259.94 L305.2,259.93 L306.2,259.93 L307.2,259.92 L308.2,259.91 L309.2,259.91 L310.2,259.9 L311.2,259.89 L312.2,259.89 L313.2,259.88 L314.2,259.87 L315.2,259.86 L316.2,259.85 L317.2,259.84 L318.2,259.83 L319.2,259.82 L320.2,259.81 L321.2,259.8 L322.2,259.79 L323.2,259.78 L324.2,259.77 L325.2,259.75 L326.2,259.74 L327.2,259.72 L328.2,259.7 L329.2,259.69 L330.2,259.67 L331.2,259.64 L332.2,259.62 L333.2,259.59 L334.2,259.56 L335.2,259.52 L336.2,259.48 L337.2,259.43 L338.2,259.37 L339.2,259.31 L340.2,259.23 L341.2,259.15 L342.2,259.04 L343.2,258.93 L344.2,258.79 L345.2,258.62 L346.2,258.43 L347.2,258.21 L348.2,257.96 L349.2,257.66 L350.2,257.32 L351.2,256.93 L352.2,256.48 L353.2,255.96 L354.2,255.38 L355.2,254.72 L356.2,253.97 L357.2,253.13 L358.2,252.2 L359.2,251.16 L360.2,250 L361.2,248.73 L362.2,247.34 L363.2,245.83 L364.2,244.18 L365.2,242.4 L366.2,240.5 L367.2,238.47 L368.2,236.31 L369.2,234.04 L370.2,231.66 L371.2,229.18 L372.2,226.61 L373.2,223.98 L374.2,221.29 L375.2,218.57 L376.2,215.83 L377.2,213.11 L378.2,210.42 L379.2,207.8 L380.2,205.27 L381.2,202.86 L382.2,200.59 L383.2,198.5 L384.2,196.6 L385.2,194.94 L386.2,193.53 L387.2,192.38 L388.2,191.53 L389.2,190.98 L390.2,190.74 L391.2,190.83 L392.2,191.27 L393.2,192.05 L394.2,193.18 L395.2,194.62 L396.2,196.37 L397.2,198.38 L398.2,200.64 L399.2,203.11 L400.2,205.76 L401.2,208.55 L402.2,211.45 L403.2,214.43 L404.2,217.44 L405.2,220.46 L406.2,223.46 L407.2,226.4 L408.2,229.27 L409.2,232.04 L410.2,234.69 L411.2,237.21 L412.2,239.59 L413.2,241.82 L414.2,243.89 L415.2,245.8 L416.2,247.55 L417.2,249.15 L418.2,250.6 L419.2,251.89 L420.2,253.05 L421.2,254.08 L422.2,254.99 L423.2,255.79 L424.2,256.48 L425.2,257.08 L426.2,257.6 L427.2,258.04 L428.2,258.42 L429.2,258.74 L430.2,259 L431.2,259.23 L432.2,259.41 L433.2,259.57 L434.2,259.69 L435.2,259.8 L436.2,259.88 L437.2,259.95 L438.2,260 L439.2,260.05 L440.2,260.08 L441.2,260.11 L442.2,260.13 L443.2,260.15 L444.2,260.16 L445.2,260.17 L446.2,260.18 L447.2,260.18 L448.2,260.19 L449.2,260.19 L450.2,260.19 L451.2,260.19 L452.2,260.2 L453.2,260.2 L454.2,260.2 L455.2,260.2 L456.2,260.2 L457.2,260.2 L458.2,260.2 L459.2,260.2 L460.2,260.2 L461.2,260.2 L462.2,260.2 L463.2,260.2 L464.2,260.2 L465.2,260.2 L466.2,260.2 L467.2,260.2 L468.2,260.2 L469.2,260.2 L470.2,260.2 L471.2,260.2 L472.2,260.2 L473.2,260.2 L474.2,260.2" fill="none" stroke="#000" stroke-width="1.05"/>
<path d="M284.2,260.03 L285.2,260.03 L286.2,260.03 L287.2,260.02 L288.2,260.02 L289.2,260.01 L290.2,260.01 L291.2,260 L292.2,259.99 L293.2,259.99 L294.2,259.98 L295.2,259.97 L296.2,259.97 L297.2,259.96 L298.2,259.95 L299.2,259.94 L300.2,259.93 L301.2,259.92 L302.2,259.91 L303.2,259.89 L304.2,259.88 L305.2,259.86 L306.2,259.84 L307.2,259.82 L308.2,259.79 L309.2,259.77 L310.2,259.74 L311.2,259.7 L312.2,259.66 L313.2,259.62 L314.2,259.57 L315.2,259.52 L316.2,259.45 L317.2,259.38 L318.2,259.3 L319.2,259.22 L320.2,259.12 L321.2,259.01 L322.2,258.88 L323.2,258.75 L324.2,258.6 L325.2,258.43 L326.2,258.25 L327.2,258.05 L328.2,257.84 L329.2,257.6 L330.2,257.35 L331.2,257.07 L332.2,256.78 L333.2,256.47 L334.2,256.13 L335.2,255.78 L336.2,255.41 L337.2,255.02 L338.2,254.61 L339.2,254.19 L340.2,253.75 L341.2,253.31 L342.2,252.85 L343.2,252.39 L344.2,251.92 L345.2,251.45 L346.2,250.98 L347.2,250.52 L348.2,250.08 L349.2,249.64 L350.2,249.23 L351.2,248.84 L352.2,248.47 L353.2,248.14 L354.2,247.85 L355.2,247.6 L356.2,247.39 L357.2,247.23 L358.2,247.13 L359.2,247.07 L360.2,247.08 L361.2,247.21 L362.2,247.47 L363.2,247.84 L364.2,248.31 L365.2,248.87 L366.2,249.48 L367.2,250.13 L368.2,250.81 L369.2,251.49 L370.2,252.16 L371.2,252.82 L372.2,253.46 L373.2,254.07 L374.2,254.64 L375.2,255.17 L376.2,255.67 L377.2,256.13 L378.2,256.54 L379.2,256.92 L380.2,257.26 L381.2,257.56 L382.2,257.83 L383.2,258.07 L384.2,258.28 L385.2,258.46 L386.2,258.62 L387.2,258.76 L388.2,258.89 L389.2,258.99 L390.2,259.09 L391.2,259.17 L392.2,259.24 L393.2,259.3 L394.2,259.36 L395.2,259.41 L396.2,259.45 L397.2,259.49 L398.2,259.53 L399.2,259.56 L400.2,259.59 L401.2,259.62 L402.2,259.65 L403.2,259.67 L404.2,259.69 L405.2,259.71 L406.2,259.73 L407.2,259.75 L408.2,259.77 L409.2,259.79 L410.2,259.8 L411.2,259.82 L412.2,259.83 L413.2,259.84 L414.2,259.85 L415.2,259.87 L416.2,259.88 L417.2,259.89 L418.2,259.9 L419.2,259.91 L420.2,259.92 L421.2,259.93 L422.2,259.93 L423.2,259.94 L424.2,259.95 L425.2,259.96 L426.2,259.96 L427.2,259.97 L428.2,259.98 L429.2,259.98 L430.2,259.99 L431.2,259.99 L432.2,260 L433.2,260.01 L434.2,260.01 L435.2,260.02 L436.2,260.02 L437.2,260.02 L438.2,260.03 L439.2,260.03 L440.2,260.04 L441.2,260.04 L442.2,260.04 L443.2,260.05 L444.2,260.05 L445.2,260.06 L446.2,260.06 L447.2,260.06 L448.2,260.06 L449.2,260.07 L450.2,260.07 L451.2,260.07 L452.2,260.08 L453.2,260.08 L454.2,260.08 L455.2,260.08 L456.2,260.09 L457.2,260.09 L458.2,260.09 L459.2,260.09 L460.2,260.09 L461.2,260.1 L462.2,260.1 L463.2,260.1 L464.2,260.1 L465.2,260.1 L466.2,260.11 L467.2,260.11 L468.2,260.11 L469.2,260.11 L470.2,260.11 L471.2,260.11 L472.2,260.12 L473.2,260.12 L474.2,260.12 L474.2,260.2 L284.2,260.2 Z" fill="rgba(0,140,0,0.42)"/>
<path d="M284.2,260.03 L285.2,260.03 L286.2,260.03 L287.2,260.02 L288.2,260.02 L289.2,260.01 L290.2,260.01 L291.2,260 L292.2,259.99 L293.2,259.99 L294.2,259.98 L295.2,259.97 L296.2,259.97 L297.2,259.96 L298.2,259.95 L299.2,259.94 L300.2,259.93 L301.2,259.92 L302.2,259.91 L303.2,259.89 L304.2,259.88 L305.2,259.86 L306.2,259.84 L307.2,259.82 L308.2,259.79 L309.2,259.77 L310.2,259.74 L311.2,259.7 L312.2,259.66 L313.2,259.62 L314.2,259.57 L315.2,259.52 L316.2,259.45 L317.2,259.38 L318.2,259.3 L319.2,259.22 L320.2,259.12 L321.2,259.01 L322.2,258.88 L323.2,258.75 L324.2,258.6 L325.2,258.43 L326.2,258.25 L327.2,258.05 L328.2,257.84 L329.2,257.6 L330.2,257.35 L331.2,257.07 L332.2,256.78 L333.2,256.47 L334.2,256.13 L335.2,255.78 L336.2,255.41 L337.2,255.02 L338.2,254.61 L339.2,254.19 L340.2,253.75 L341.2,253.31 L342.2,252.85 L343.2,252.39 L344.2,251.92 L345.2,251.45 L346.2,250.98 L347.2,250.52 L348.2,250.08 L349.2,249.64 L350.2,249.23 L351.2,248.84 L352.2,248.47 L353.2,248.14 L354.2,247.85 L355.2,247.6 L356.2,247.39 L357.2,247.23 L358.2,247.13 L359.2,247.07 L360.2,247.08 L361.2,247.21 L362.2,247.47 L363.2,247.84 L364.2,248.31 L365.2,248.87 L366.2,249.48 L367.2,250.13 L368.2,250.81 L369.2,251.49 L370.2,252.16 L371.2,252.82 L372.2,253.46 L373.2,254.07 L374.2,254.64 L375.2,255.17 L376.2,255.67 L377.2,256.13 L378.2,256.54 L379.2,256.92 L380.2,257.26 L381.2,257.56 L382.2,257.83 L383.2,258.07 L384.2,258.28 L385.2,258.46 L386.2,258.62 L387.2,258.76 L388.2,258.89 L389.2,258.99 L390.2,259.09 L391.2,259.17 L392.2,259.24 L393.2,259.3 L394.2,259.36 L395.2,259.41 L396.2,259.45 L397.2,259.49 L398.2,259.53 L399.2,259.56 L400.2,259.59 L401.2,259.62 L402.2,259.65 L403.2,259.67 L404.2,259.69 L405.2,259.71 L406.2,259.73 L407.2,259.75 L408.2,259.77 L409.2,259.79 L410.2,259.8 L411.2,259.82 L412.2,259.83 L413.2,259.84 L414.2,259.85 L415.2,259.87 L416.2,259.88 L417.2,259.89 L418.2,259.9 L419.2,259.91 L420.2,259.92 L421.2,259.93 L422.2,259.93 L423.2,259.94 L424.2,259.95 L425.2,259.96 L426.2,259.96 L427.2,259.97 L428.2,259.98 L429.2,259.98 L430.2,259.99 L431.2,259.99 L432.2,260 L433.2,260.01 L434.2,260.01 L435.2,260.02 L436.2,260.02 L437.2,260.02 L438.2,260.03 L439.2,260.03 L440.2,260.04 L441.2,260.04 L442.2,260.04 L443.2,260.05 L444.2,260.05 L445.2,260.06 L446.2,260.06 L447.2,260.06 L448.2,260.06 L449.2,260.07 L450.2,260.07 L451.2,260.07 L452.2,260.08 L453.2,260.08 L454.2,260.08 L455.2,260.08 L456.2,260.09 L457.2,260.09 L458.2,260.09 L459.2,260.09 L460.2,260.09 L461.2,260.1 L462.2,260.1 L463.2,260.1 L464.2,260.1 L465.2,260.1 L466.2,260.11 L467.2,260.11 L468.2,260.11 L469.2,260.11 L470.2,260.11 L471.2,260.11 L472.2,260.12 L473.2,260.12 L474.2,260.12" fill="none" stroke="#0a8a0a" stroke-width="1.15"/>
<path d="M284.2,258.76 L285.2,258.76 L286.2,258.75 L287.2,258.75 L288.2,258.75 L289.2,258.74 L290.2,258.74 L291.2,258.74 L292.2,258.73 L293.2,258.72 L294.2,258.72 L295.2,258.71 L296.2,258.7 L297.2,258.69 L298.2,258.68 L299.2,258.67 L300.2,258.65 L301.2,258.63 L302.2,258.61 L303.2,258.59 L304.2,258.57 L305.2,258.54 L306.2,258.51 L307.2,258.47 L308.2,258.43 L309.2,258.39 L310.2,258.34 L311.2,258.28 L312.2,258.22 L313.2,258.15 L314.2,258.07 L315.2,257.98 L316.2,257.89 L317.2,257.78 L318.2,257.67 L319.2,257.54 L320.2,257.4 L321.2,257.24 L322.2,257.08 L323.2,256.89 L324.2,256.69 L325.2,256.48 L326.2,256.25 L327.2,255.99 L328.2,255.72 L329.2,255.43 L330.2,255.12 L331.2,254.78 L332.2,254.43 L333.2,254.05 L334.2,253.64 L335.2,253.21 L336.2,252.76 L337.2,252.29 L338.2,251.79 L339.2,251.26 L340.2,250.71 L341.2,250.14 L342.2,249.55 L343.2,248.93 L344.2,248.29 L345.2,247.63 L346.2,246.95 L347.2,246.26 L348.2,245.54 L349.2,244.82 L350.2,244.07 L351.2,243.32 L352.2,242.55 L353.2,241.78 L354.2,240.99 L355.2,240.19 L356.2,239.38 L357.2,238.57 L358.2,237.73 L359.2,236.89 L360.2,236.01 L361.2,235.12 L362.2,234.18 L363.2,233.2 L364.2,232.16 L365.2,231.05 L366.2,229.86 L367.2,228.55 L368.2,227.11 L369.2,225.52 L370.2,223.74 L371.2,221.75 L372.2,219.53 L373.2,217.03 L374.2,214.22 L375.2,211.09 L376.2,207.59 L377.2,203.71 L378.2,199.42 L379.2,194.71 L380.2,189.57 L381.2,184 L382.2,178.02 L383.2,171.64 L384.2,164.9 L385.2,157.85 L386.2,150.53 L387.2,143.03 L388.2,135.42 L389.2,127.8 L390.2,120.25 L391.2,112.88 L392.2,105.77 L393.2,99.02 L394.2,92.7 L395.2,86.85 L396.2,81.49 L397.2,76.64 L398.2,72.29 L399.2,68.44 L400.2,65.11 L401.2,62.38 L402.2,60.4 L403.2,59.38 L404.2,59.57 L405.2,61.25 L406.2,64.64 L407.2,69.9 L408.2,77.03 L409.2,85.87 L410.2,96.15 L411.2,107.46 L412.2,119.37 L413.2,131.44 L414.2,143.31 L415.2,154.69 L416.2,165.4 L417.2,175.34 L418.2,184.49 L419.2,192.87 L420.2,200.51 L421.2,207.47 L422.2,213.79 L423.2,219.51 L424.2,224.68 L425.2,229.32 L426.2,233.47 L427.2,237.15 L428.2,240.39 L429.2,243.23 L430.2,245.7 L431.2,247.84 L432.2,249.67 L433.2,251.23 L434.2,252.55 L435.2,253.66 L436.2,254.59 L437.2,255.37 L438.2,256.01 L439.2,256.53 L440.2,256.96 L441.2,257.31 L442.2,257.6 L443.2,257.82 L444.2,258.01 L445.2,258.16 L446.2,258.28 L447.2,258.37 L448.2,258.45 L449.2,258.51 L450.2,258.55 L451.2,258.59 L452.2,258.62 L453.2,258.65 L454.2,258.67 L455.2,258.69 L456.2,258.7 L457.2,258.71 L458.2,258.72 L459.2,258.73 L460.2,258.73 L461.2,258.74 L462.2,258.74 L463.2,258.75 L464.2,258.75 L465.2,258.75 L466.2,258.76 L467.2,258.76 L468.2,258.76 L469.2,258.76 L470.2,258.76 L471.2,258.76 L472.2,258.77 L473.2,258.77 L474.2,258.77" fill="none" stroke="#f00" stroke-width="1.65"/>
<g fill="#000"><circle cx="285.4" cy="260.61" r="1.05"/><circle cx="287.85" cy="261.3" r="1.05"/><circle cx="290.3" cy="261.07" r="1.05"/><circle cx="292.75" cy="260.78" r="1.05"/><circle cx="295.2" cy="260.96" r="1.05"/><circle cx="297.65" cy="260.71" r="1.05"/><circle cx="300.1" cy="260.92" r="1.05"/><circle cx="302.55" cy="260.92" r="1.05"/><circle cx="305" cy="259.88" r="1.05"/><circle cx="307.45" cy="259.56" r="1.05"/><circle cx="309.9" cy="260.14" r="1.05"/><circle cx="312.35" cy="259.08" r="1.05"/><circle cx="314.8" cy="258.68" r="1.05"/><circle cx="317.25" cy="257.28" r="1.05"/><circle cx="319.7" cy="257.54" r="1.05"/><circle cx="322.15" cy="256.01" r="1.05"/><circle cx="324.6" cy="254.15" r="1.05"/><circle cx="327.05" cy="254.33" r="1.05"/><circle cx="329.5" cy="253.43" r="1.05"/><circle cx="331.95" cy="250.74" r="1.05"/><circle cx="334.4" cy="250.36" r="1.05"/><circle cx="336.85" cy="248.94" r="1.05"/><circle cx="339.3" cy="248.64" r="1.05"/><circle cx="341.75" cy="247.66" r="1.05"/><circle cx="344.2" cy="246.96" r="1.05"/><circle cx="346.65" cy="244.45" r="1.05"/><circle cx="349.1" cy="243.07" r="1.05"/><circle cx="351.55" cy="240.74" r="1.05"/><circle cx="354" cy="239.82" r="1.05"/><circle cx="356.45" cy="238.74" r="1.05"/><circle cx="358.9" cy="236.8" r="1.05"/><circle cx="361.35" cy="234.79" r="1.05"/><circle cx="363.8" cy="232.17" r="1.05"/><circle cx="366.25" cy="229.28" r="1.05"/><circle cx="368.7" cy="226.71" r="1.05"/><circle cx="371.15" cy="222" r="1.05"/><circle cx="373.6" cy="215.51" r="1.05"/><circle cx="376.05" cy="208.68" r="1.05"/><circle cx="378.5" cy="197.79" r="1.05"/><circle cx="380.95" cy="184.87" r="1.05"/><circle cx="383.4" cy="170.29" r="1.05"/><circle cx="385.85" cy="152.51" r="1.05"/><circle cx="388.3" cy="133.71" r="1.05"/><circle cx="390.75" cy="115.95" r="1.05"/><circle cx="393.2" cy="99.19" r="1.05"/><circle cx="395.65" cy="84.06" r="1.05"/><circle cx="398.1" cy="71.96" r="1.05"/><circle cx="400.55" cy="63.82" r="1.05"/><circle cx="403" cy="59.32" r="1.05"/><circle cx="405.45" cy="61.86" r="1.05"/><circle cx="407.9" cy="74.9" r="1.05"/><circle cx="410.35" cy="98.59" r="1.05"/><circle cx="412.8" cy="126.57" r="1.05"/><circle cx="415.25" cy="155.8" r="1.05"/><circle cx="417.7" cy="180.35" r="1.05"/><circle cx="420.15" cy="200.58" r="1.05"/><circle cx="422.6" cy="217.02" r="1.05"/><circle cx="425.05" cy="228.39" r="1.05"/><circle cx="427.5" cy="238.27" r="1.05"/><circle cx="429.95" cy="244.87" r="1.05"/><circle cx="432.4" cy="250.47" r="1.05"/><circle cx="434.85" cy="253.82" r="1.05"/><circle cx="437.3" cy="255.76" r="1.05"/><circle cx="439.75" cy="257.06" r="1.05"/><circle cx="442.2" cy="258.43" r="1.05"/><circle cx="444.65" cy="260.19" r="1.05"/><circle cx="447.1" cy="259.57" r="1.05"/><circle cx="449.55" cy="260.09" r="1.05"/><circle cx="452" cy="260.37" r="1.05"/><circle cx="454.45" cy="260.05" r="1.05"/><circle cx="456.9" cy="261.4" r="1.05"/><circle cx="459.35" cy="260.11" r="1.05"/><circle cx="461.8" cy="260.68" r="1.05"/><circle cx="464.25" cy="260.5" r="1.05"/><circle cx="466.7" cy="260.44" r="1.05"/><circle cx="469.15" cy="259.84" r="1.05"/><circle cx="471.6" cy="260.45" r="1.05"/></g></g>
<rect x="485.4" y="25.5" width="195.6" height="236.5" fill="none" stroke="#262626" stroke-width="1.3"/>
<path d="M485.4,262 v3.0 M522.15,262 v2 M558.9,262 v3.0 M595.65,262 v2 M632.4,262 v3.0 M669.15,262 v2" stroke="#000" stroke-width="1"/>
<path d="M681,166.8 h-1.8 M681,74.4 h-1.8" stroke="#000" stroke-width="1.2"/>
<clipPath id="cT3"><rect x="486.0" y="26.1" width="194.4" height="236.7"/></clipPath>
<g clip-path="url(#cT3)"><path d="M486,258.5 L487,258.48 L488,258.47 L489,258.46 L490,258.45 L491,258.43 L492,258.42 L493,258.4 L494,258.39 L495,258.38 L496,258.36 L497,258.34 L498,258.33 L499,258.31 L500,258.3 L501,258.28 L502,258.26 L503,258.24 L504,258.22 L505,258.2 L506,258.18 L507,258.16 L508,258.14 L509,258.12 L510,258.09 L511,258.07 L512,258.05 L513,258.02 L514,258 L515,257.97 L516,257.94 L517,257.91 L518,257.88 L519,257.85 L520,257.82 L521,257.79 L522,257.75 L523,257.72 L524,257.68 L525,257.64 L526,257.61 L527,257.56 L528,257.52 L529,257.48 L530,257.43 L531,257.38 L532,257.34 L533,257.28 L534,257.23 L535,257.17 L536,257.12 L537,257.05 L538,256.99 L539,256.93 L540,256.86 L541,256.78 L542,256.71 L543,256.63 L544,256.54 L545,256.46 L546,256.37 L547,256.27 L548,256.17 L549,256.06 L550,255.95 L551,255.83 L552,255.7 L553,255.57 L554,255.43 L555,255.28 L556,255.11 L557,254.94 L558,254.75 L559,254.54 L560,254.32 L561,254.07 L562,253.8 L563,253.49 L564,253.14 L565,252.75 L566,252.31 L567,251.79 L568,251.2 L569,250.52 L570,249.73 L571,248.81 L572,247.73 L573,246.48 L574,245.03 L575,243.35 L576,241.41 L577,239.18 L578,236.62 L579,233.71 L580,230.41 L581,226.69 L582,222.54 L583,217.92 L584,212.83 L585,207.27 L586,201.23 L587,194.73 L588,187.79 L589,180.47 L590,172.8 L591,164.86 L592,156.72 L593,148.5 L594,140.31 L595,132.27 L596,124.54 L597,117.28 L598,110.65 L599,104.84 L600,100.01 L601,96.33 L602,93.93 L603,92.88 L604,93.3 L605,95.32 L606,98.89 L607,103.92 L608,110.24 L609,117.71 L610,126.1 L611,135.22 L612,144.83 L613,154.73 L614,164.7 L615,174.55 L616,184.11 L617,193.24 L618,201.82 L619,209.78 L620,217.04 L621,223.59 L622,229.41 L623,234.52 L624,238.96 L625,242.61 L626,245.59 L627,248.13 L628,250.27 L629,252.07 L630,253.55 L631,254.77 L632,255.82 L633,256.74 L634,257.44 L635,257.95 L636,258.32 L637,258.57 L638,258.75 L639,258.88 L640,258.98 L641,259.04 L642,259.09 L643,259.13 L644,259.15 L645,259.17 L646,259.18 L647,259.19 L648,259.19 L649,259.19 L650,259.2 L651,259.2 L652,259.2 L653,259.2 L654,259.2 L655,259.2 L656,259.2 L657,259.2 L658,259.2 L659,259.2 L660,259.2 L661,259.2 L662,259.2 L663,259.2 L664,259.2 L665,259.2 L666,259.2 L667,259.2 L668,259.2 L669,259.2 L670,259.2 L671,259.2 L672,259.2 L673,259.2 L674,259.2 L675,259.2 L676,259.2 L677,259.2 L678,259.2 L679,259.2 L680,259.2 L680.4,259.2 L680.4,259.2 L486,259.2 Z" fill="#c4c4ff"/>
<path d="M486,258.5 L487,258.48 L488,258.47 L489,258.46 L490,258.45 L491,258.43 L492,258.42 L493,258.4 L494,258.39 L495,258.38 L496,258.36 L497,258.34 L498,258.33 L499,258.31 L500,258.3 L501,258.28 L502,258.26 L503,258.24 L504,258.22 L505,258.2 L506,258.18 L507,258.16 L508,258.14 L509,258.12 L510,258.09 L511,258.07 L512,258.05 L513,258.02 L514,258 L515,257.97 L516,257.94 L517,257.91 L518,257.88 L519,257.85 L520,257.82 L521,257.79 L522,257.75 L523,257.72 L524,257.68 L525,257.64 L526,257.61 L527,257.56 L528,257.52 L529,257.48 L530,257.43 L531,257.38 L532,257.34 L533,257.28 L534,257.23 L535,257.17 L536,257.12 L537,257.05 L538,256.99 L539,256.93 L540,256.86 L541,256.78 L542,256.71 L543,256.63 L544,256.54 L545,256.46 L546,256.37 L547,256.27 L548,256.17 L549,256.06 L550,255.95 L551,255.83 L552,255.7 L553,255.57 L554,255.43 L555,255.28 L556,255.11 L557,254.94 L558,254.75 L559,254.54 L560,254.32 L561,254.07 L562,253.8 L563,253.49 L564,253.14 L565,252.75 L566,252.31 L567,251.79 L568,251.2 L569,250.52 L570,249.73 L571,248.81 L572,247.73 L573,246.48 L574,245.03 L575,243.35 L576,241.41 L577,239.18 L578,236.62 L579,233.71 L580,230.41 L581,226.69 L582,222.54 L583,217.92 L584,212.83 L585,207.27 L586,201.23 L587,194.73 L588,187.79 L589,180.47 L590,172.8 L591,164.86 L592,156.72 L593,148.5 L594,140.31 L595,132.27 L596,124.54 L597,117.28 L598,110.65 L599,104.84 L600,100.01 L601,96.33 L602,93.93 L603,92.88 L604,93.3 L605,95.32 L606,98.89 L607,103.92 L608,110.24 L609,117.71 L610,126.1 L611,135.22 L612,144.83 L613,154.73 L614,164.7 L615,174.55 L616,184.11 L617,193.24 L618,201.82 L619,209.78 L620,217.04 L621,223.59 L622,229.41 L623,234.52 L624,238.96 L625,242.61 L626,245.59 L627,248.13 L628,250.27 L629,252.07 L630,253.55 L631,254.77 L632,255.82 L633,256.74 L634,257.44 L635,257.95 L636,258.32 L637,258.57 L638,258.75 L639,258.88 L640,258.98 L641,259.04 L642,259.09 L643,259.13 L644,259.15 L645,259.17 L646,259.18 L647,259.19 L648,259.19 L649,259.19 L650,259.2 L651,259.2 L652,259.2 L653,259.2 L654,259.2 L655,259.2 L656,259.2 L657,259.2 L658,259.2 L659,259.2 L660,259.2 L661,259.2 L662,259.2 L663,259.2 L664,259.2 L665,259.2 L666,259.2 L667,259.2 L668,259.2 L669,259.2 L670,259.2 L671,259.2 L672,259.2 L673,259.2 L674,259.2 L675,259.2 L676,259.2 L677,259.2 L678,259.2 L679,259.2 L680,259.2 L680.4,259.2" fill="none" stroke="#1e1ef0" stroke-width="1.2"/>
<path d="M486,259.01 L487,259 L488,259 L489,258.99 L490,258.99 L491,258.99 L492,258.98 L493,258.98 L494,258.97 L495,258.97 L496,258.96 L497,258.96 L498,258.95 L499,258.95 L500,258.94 L501,258.94 L502,258.93 L503,258.92 L504,258.92 L505,258.91 L506,258.9 L507,258.9 L508,258.89 L509,258.88 L510,258.87 L511,258.87 L512,258.86 L513,258.85 L514,258.84 L515,258.83 L516,258.82 L517,258.81 L518,258.8 L519,258.79 L520,258.78 L521,258.76 L522,258.75 L523,258.74 L524,258.72 L525,258.7 L526,258.69 L527,258.67 L528,258.65 L529,258.62 L530,258.6 L531,258.57 L532,258.54 L533,258.5 L534,258.46 L535,258.41 L536,258.36 L537,258.3 L538,258.23 L539,258.14 L540,258.04 L541,257.93 L542,257.79 L543,257.64 L544,257.46 L545,257.25 L546,257 L547,256.72 L548,256.39 L549,256.01 L550,255.57 L551,255.08 L552,254.51 L553,253.87 L554,253.15 L555,252.34 L556,251.43 L557,250.42 L558,249.3 L559,248.06 L560,246.71 L561,245.23 L562,243.63 L563,241.9 L564,240.05 L565,238.07 L566,235.97 L567,233.76 L568,231.44 L569,229.04 L570,226.55 L571,223.99 L572,221.39 L573,218.77 L574,216.13 L575,213.52 L576,210.95 L577,208.44 L578,206.04 L579,203.76 L580,201.64 L581,199.69 L582,197.96 L583,196.46 L584,195.21 L585,194.24 L586,193.56 L587,193.18 L588,193.11 L589,193.42 L590,194.12 L591,195.2 L592,196.64 L593,198.41 L594,200.49 L595,202.84 L596,205.42 L597,208.18 L598,211.1 L599,214.11 L600,217.19 L601,220.3 L602,223.39 L603,226.42 L604,229.38 L605,232.24 L606,234.96 L607,237.54 L608,239.96 L609,242.21 L610,244.28 L611,246.18 L612,247.9 L613,249.45 L614,250.84 L615,252.07 L616,253.15 L617,254.1 L618,254.92 L619,255.63 L620,256.24 L621,256.76 L622,257.19 L623,257.56 L624,257.86 L625,258.12 L626,258.32 L627,258.49 L628,258.63 L629,258.74 L630,258.83 L631,258.9 L632,258.96 L633,259 L634,259.04 L635,259.07 L636,259.09 L637,259.11 L638,259.12 L639,259.13 L640,259.14 L641,259.14 L642,259.15 L643,259.15 L644,259.16 L645,259.16 L646,259.16 L647,259.16 L648,259.16 L649,259.17 L650,259.17 L651,259.17 L652,259.17 L653,259.17 L654,259.17 L655,259.17 L656,259.17 L657,259.17 L658,259.17 L659,259.18 L660,259.18 L661,259.18 L662,259.18 L663,259.18 L664,259.18 L665,259.18 L666,259.18 L667,259.18 L668,259.18 L669,259.18 L670,259.18 L671,259.18 L672,259.18 L673,259.18 L674,259.18 L675,259.18 L676,259.18 L677,259.18 L678,259.18 L679,259.18 L680,259.18 L680.4,259.18 L680.4,259.2 L486,259.2 Z" fill="rgba(110,110,110,0.5)"/>
<path d="M486,259.01 L487,259 L488,259 L489,258.99 L490,258.99 L491,258.99 L492,258.98 L493,258.98 L494,258.97 L495,258.97 L496,258.96 L497,258.96 L498,258.95 L499,258.95 L500,258.94 L501,258.94 L502,258.93 L503,258.92 L504,258.92 L505,258.91 L506,258.9 L507,258.9 L508,258.89 L509,258.88 L510,258.87 L511,258.87 L512,258.86 L513,258.85 L514,258.84 L515,258.83 L516,258.82 L517,258.81 L518,258.8 L519,258.79 L520,258.78 L521,258.76 L522,258.75 L523,258.74 L524,258.72 L525,258.7 L526,258.69 L527,258.67 L528,258.65 L529,258.62 L530,258.6 L531,258.57 L532,258.54 L533,258.5 L534,258.46 L535,258.41 L536,258.36 L537,258.3 L538,258.23 L539,258.14 L540,258.04 L541,257.93 L542,257.79 L543,257.64 L544,257.46 L545,257.25 L546,257 L547,256.72 L548,256.39 L549,256.01 L550,255.57 L551,255.08 L552,254.51 L553,253.87 L554,253.15 L555,252.34 L556,251.43 L557,250.42 L558,249.3 L559,248.06 L560,246.71 L561,245.23 L562,243.63 L563,241.9 L564,240.05 L565,238.07 L566,235.97 L567,233.76 L568,231.44 L569,229.04 L570,226.55 L571,223.99 L572,221.39 L573,218.77 L574,216.13 L575,213.52 L576,210.95 L577,208.44 L578,206.04 L579,203.76 L580,201.64 L581,199.69 L582,197.96 L583,196.46 L584,195.21 L585,194.24 L586,193.56 L587,193.18 L588,193.11 L589,193.42 L590,194.12 L591,195.2 L592,196.64 L593,198.41 L594,200.49 L595,202.84 L596,205.42 L597,208.18 L598,211.1 L599,214.11 L600,217.19 L601,220.3 L602,223.39 L603,226.42 L604,229.38 L605,232.24 L606,234.96 L607,237.54 L608,239.96 L609,242.21 L610,244.28 L611,246.18 L612,247.9 L613,249.45 L614,250.84 L615,252.07 L616,253.15 L617,254.1 L618,254.92 L619,255.63 L620,256.24 L621,256.76 L622,257.19 L623,257.56 L624,257.86 L625,258.12 L626,258.32 L627,258.49 L628,258.63 L629,258.74 L630,258.83 L631,258.9 L632,258.96 L633,259 L634,259.04 L635,259.07 L636,259.09 L637,259.11 L638,259.12 L639,259.13 L640,259.14 L641,259.14 L642,259.15 L643,259.15 L644,259.16 L645,259.16 L646,259.16 L647,259.16 L648,259.16 L649,259.17 L650,259.17 L651,259.17 L652,259.17 L653,259.17 L654,259.17 L655,259.17 L656,259.17 L657,259.17 L658,259.17 L659,259.18 L660,259.18 L661,259.18 L662,259.18 L663,259.18 L664,259.18 L665,259.18 L666,259.18 L667,259.18 L668,259.18 L669,259.18 L670,259.18 L671,259.18 L672,259.18 L673,259.18 L674,259.18 L675,259.18 L676,259.18 L677,259.18 L678,259.18 L679,259.18 L680,259.18 L680.4,259.18" fill="none" stroke="#000" stroke-width="1.05"/>
<path d="M486,259.2 L487,259.2 L488,259.2 L489,259.2 L490,259.2 L491,259.2 L492,259.2 L493,259.2 L494,259.2 L495,259.2 L496,259.2 L497,259.2 L498,259.2 L499,259.2 L500,259.2 L501,259.2 L502,259.2 L503,259.2 L504,259.2 L505,259.2 L506,259.19 L507,259.19 L508,259.19 L509,259.19 L510,259.18 L511,259.18 L512,259.17 L513,259.16 L514,259.15 L515,259.14 L516,259.12 L517,259.1 L518,259.08 L519,259.05 L520,259.01 L521,258.96 L522,258.91 L523,258.84 L524,258.76 L525,258.67 L526,258.56 L527,258.44 L528,258.3 L529,258.13 L530,257.94 L531,257.73 L532,257.49 L533,257.23 L534,256.93 L535,256.61 L536,256.26 L537,255.88 L538,255.48 L539,255.04 L540,254.59 L541,254.11 L542,253.62 L543,253.11 L544,252.6 L545,252.08 L546,251.57 L547,251.07 L548,250.58 L549,250.12 L550,249.69 L551,249.3 L552,248.95 L553,248.64 L554,248.39 L555,248.2 L556,248.07 L557,248 L558,248 L559,248.08 L560,248.24 L561,248.48 L562,248.79 L563,249.16 L564,249.58 L565,250.05 L566,250.55 L567,251.08 L568,251.62 L569,252.18 L570,252.73 L571,253.27 L572,253.81 L573,254.32 L574,254.81 L575,255.27 L576,255.7 L577,256.1 L578,256.47 L579,256.8 L580,257.1 L581,257.37 L582,257.61 L583,257.83 L584,258.01 L585,258.18 L586,258.32 L587,258.44 L588,258.54 L589,258.63 L590,258.7 L591,258.76 L592,258.81 L593,258.86 L594,258.89 L595,258.92 L596,258.95 L597,258.97 L598,258.99 L599,259 L600,259.02 L601,259.03 L602,259.04 L603,259.05 L604,259.05 L605,259.06 L606,259.07 L607,259.07 L608,259.08 L609,259.08 L610,259.09 L611,259.09 L612,259.1 L613,259.1 L614,259.1 L615,259.11 L616,259.11 L617,259.11 L618,259.11 L619,259.12 L620,259.12 L621,259.12 L622,259.12 L623,259.13 L624,259.13 L625,259.13 L626,259.13 L627,259.13 L628,259.14 L629,259.14 L630,259.14 L631,259.14 L632,259.14 L633,259.14 L634,259.15 L635,259.15 L636,259.15 L637,259.15 L638,259.15 L639,259.15 L640,259.15 L641,259.15 L642,259.15 L643,259.16 L644,259.16 L645,259.16 L646,259.16 L647,259.16 L648,259.16 L649,259.16 L650,259.16 L651,259.16 L652,259.16 L653,259.16 L654,259.17 L655,259.17 L656,259.17 L657,259.17 L658,259.17 L659,259.17 L660,259.17 L661,259.17 L662,259.17 L663,259.17 L664,259.17 L665,259.17 L666,259.17 L667,259.17 L668,259.17 L669,259.17 L670,259.17 L671,259.17 L672,259.18 L673,259.18 L674,259.18 L675,259.18 L676,259.18 L677,259.18 L678,259.18 L679,259.18 L680,259.18 L680.4,259.18 L680.4,259.2 L486,259.2 Z" fill="rgba(0,140,0,0.42)"/>
<path d="M486,259.2 L487,259.2 L488,259.2 L489,259.2 L490,259.2 L491,259.2 L492,259.2 L493,259.2 L494,259.2 L495,259.2 L496,259.2 L497,259.2 L498,259.2 L499,259.2 L500,259.2 L501,259.2 L502,259.2 L503,259.2 L504,259.2 L505,259.2 L506,259.19 L507,259.19 L508,259.19 L509,259.19 L510,259.18 L511,259.18 L512,259.17 L513,259.16 L514,259.15 L515,259.14 L516,259.12 L517,259.1 L518,259.08 L519,259.05 L520,259.01 L521,258.96 L522,258.91 L523,258.84 L524,258.76 L525,258.67 L526,258.56 L527,258.44 L528,258.3 L529,258.13 L530,257.94 L531,257.73 L532,257.49 L533,257.23 L534,256.93 L535,256.61 L536,256.26 L537,255.88 L538,255.48 L539,255.04 L540,254.59 L541,254.11 L542,253.62 L543,253.11 L544,252.6 L545,252.08 L546,251.57 L547,251.07 L548,250.58 L549,250.12 L550,249.69 L551,249.3 L552,248.95 L553,248.64 L554,248.39 L555,248.2 L556,248.07 L557,248 L558,248 L559,248.08 L560,248.24 L561,248.48 L562,248.79 L563,249.16 L564,249.58 L565,250.05 L566,250.55 L567,251.08 L568,251.62 L569,252.18 L570,252.73 L571,253.27 L572,253.81 L573,254.32 L574,254.81 L575,255.27 L576,255.7 L577,256.1 L578,256.47 L579,256.8 L580,257.1 L581,257.37 L582,257.61 L583,257.83 L584,258.01 L585,258.18 L586,258.32 L587,258.44 L588,258.54 L589,258.63 L590,258.7 L591,258.76 L592,258.81 L593,258.86 L594,258.89 L595,258.92 L596,258.95 L597,258.97 L598,258.99 L599,259 L600,259.02 L601,259.03 L602,259.04 L603,259.05 L604,259.05 L605,259.06 L606,259.07 L607,259.07 L608,259.08 L609,259.08 L610,259.09 L611,259.09 L612,259.1 L613,259.1 L614,259.1 L615,259.11 L616,259.11 L617,259.11 L618,259.11 L619,259.12 L620,259.12 L621,259.12 L622,259.12 L623,259.13 L624,259.13 L625,259.13 L626,259.13 L627,259.13 L628,259.14 L629,259.14 L630,259.14 L631,259.14 L632,259.14 L633,259.14 L634,259.15 L635,259.15 L636,259.15 L637,259.15 L638,259.15 L639,259.15 L640,259.15 L641,259.15 L642,259.15 L643,259.16 L644,259.16 L645,259.16 L646,259.16 L647,259.16 L648,259.16 L649,259.16 L650,259.16 L651,259.16 L652,259.16 L653,259.16 L654,259.17 L655,259.17 L656,259.17 L657,259.17 L658,259.17 L659,259.17 L660,259.17 L661,259.17 L662,259.17 L663,259.17 L664,259.17 L665,259.17 L666,259.17 L667,259.17 L668,259.17 L669,259.17 L670,259.17 L671,259.17 L672,259.18 L673,259.18 L674,259.18 L675,259.18 L676,259.18 L677,259.18 L678,259.18 L679,259.18 L680,259.18 L680.4,259.18" fill="none" stroke="#0a8a0a" stroke-width="1.15"/>
<path d="M486,258.4 L487,258.39 L488,258.39 L489,258.38 L490,258.37 L491,258.36 L492,258.35 L493,258.34 L494,258.32 L495,258.31 L496,258.3 L497,258.28 L498,258.27 L499,258.25 L500,258.23 L501,258.21 L502,258.18 L503,258.15 L504,258.12 L505,258.09 L506,258.06 L507,258.01 L508,257.97 L509,257.92 L510,257.86 L511,257.8 L512,257.73 L513,257.65 L514,257.57 L515,257.47 L516,257.37 L517,257.25 L518,257.13 L519,256.98 L520,256.83 L521,256.66 L522,256.47 L523,256.27 L524,256.05 L525,255.81 L526,255.55 L527,255.26 L528,254.96 L529,254.63 L530,254.28 L531,253.91 L532,253.51 L533,253.09 L534,252.64 L535,252.17 L536,251.67 L537,251.15 L538,250.61 L539,250.04 L540,249.45 L541,248.84 L542,248.22 L543,247.57 L544,246.91 L545,246.23 L546,245.54 L547,244.84 L548,244.13 L549,243.41 L550,242.67 L551,241.93 L552,241.18 L553,240.41 L554,239.63 L555,238.83 L556,238.01 L557,237.15 L558,236.26 L559,235.32 L560,234.32 L561,233.24 L562,232.08 L563,230.81 L564,229.43 L565,227.9 L566,226.2 L567,224.33 L568,222.25 L569,219.94 L570,217.4 L571,214.59 L572,211.5 L573,208.12 L574,204.44 L575,200.44 L576,196.12 L577,191.49 L578,186.53 L579,181.26 L580,175.69 L581,169.81 L582,163.65 L583,157.22 L584,150.54 L585,143.65 L586,136.57 L587,129.35 L588,122.04 L589,114.68 L590,107.37 L591,100.16 L592,93.17 L593,86.48 L594,80.21 L595,74.49 L596,69.43 L597,65.16 L598,61.81 L599,59.49 L600,58.29 L601,58.3 L602,59.57 L603,62.14 L604,65.99 L605,71.11 L606,77.43 L607,84.84 L608,93.23 L609,102.45 L610,112.34 L611,122.72 L612,133.41 L613,144.22 L614,154.98 L615,165.54 L616,175.74 L617,185.46 L618,194.61 L619,203.1 L620,210.89 L621,217.94 L622,224.26 L623,229.85 L624,234.73 L625,238.96 L626,242.57 L627,245.63 L628,248.18 L629,250.3 L630,252.03 L631,253.44 L632,254.57 L633,255.46 L634,256.17 L635,256.72 L636,257.14 L637,257.47 L638,257.72 L639,257.9 L640,258.04 L641,258.15 L642,258.22 L643,258.28 L644,258.32 L645,258.35 L646,258.38 L647,258.4 L648,258.41 L649,258.42 L650,258.43 L651,258.44 L652,258.45 L653,258.46 L654,258.46 L655,258.47 L656,258.47 L657,258.48 L658,258.48 L659,258.49 L660,258.49 L661,258.49 L662,258.5 L663,258.5 L664,258.51 L665,258.51 L666,258.51 L667,258.52 L668,258.52 L669,258.52 L670,258.53 L671,258.53 L672,258.53 L673,258.54 L674,258.54 L675,258.54 L676,258.54 L677,258.55 L678,258.55 L679,258.55 L680,258.55 L680.4,258.56" fill="none" stroke="#f00" stroke-width="1.65"/>
<g fill="#000"><circle cx="487.2" cy="259.54" r="1.05"/><circle cx="489.65" cy="260.6" r="1.05"/><circle cx="492.1" cy="260.17" r="1.05"/><circle cx="494.55" cy="259.81" r="1.05"/><circle cx="497" cy="259.63" r="1.05"/><circle cx="499.45" cy="259.94" r="1.05"/><circle cx="501.9" cy="259.88" r="1.05"/><circle cx="504.35" cy="259.45" r="1.05"/><circle cx="506.8" cy="258.65" r="1.05"/><circle cx="509.25" cy="258.64" r="1.05"/><circle cx="511.7" cy="257.95" r="1.05"/><circle cx="514.15" cy="257.57" r="1.05"/><circle cx="516.6" cy="257.37" r="1.05"/><circle cx="519.05" cy="256.43" r="1.05"/><circle cx="521.5" cy="255.21" r="1.05"/><circle cx="523.95" cy="253.81" r="1.05"/><circle cx="526.4" cy="254" r="1.05"/><circle cx="528.85" cy="252.49" r="1.05"/><circle cx="531.3" cy="251.63" r="1.05"/><circle cx="533.75" cy="250.34" r="1.05"/><circle cx="536.2" cy="249.52" r="1.05"/><circle cx="538.65" cy="247.48" r="1.05"/><circle cx="541.1" cy="246.79" r="1.05"/><circle cx="543.55" cy="245.09" r="1.05"/><circle cx="546" cy="244.23" r="1.05"/><circle cx="548.45" cy="242.81" r="1.05"/><circle cx="550.9" cy="241.32" r="1.05"/><circle cx="553.35" cy="239.63" r="1.05"/><circle cx="555.8" cy="237.93" r="1.05"/><circle cx="558.25" cy="236.32" r="1.05"/><circle cx="560.7" cy="232.92" r="1.05"/><circle cx="563.15" cy="229.72" r="1.05"/><circle cx="565.6" cy="226.59" r="1.05"/><circle cx="568.05" cy="222.15" r="1.05"/><circle cx="570.5" cy="216.08" r="1.05"/><circle cx="572.95" cy="208.15" r="1.05"/><circle cx="575.4" cy="199.26" r="1.05"/><circle cx="577.85" cy="186.83" r="1.05"/><circle cx="580.3" cy="173.88" r="1.05"/><circle cx="582.75" cy="159.91" r="1.05"/><circle cx="585.2" cy="142.55" r="1.05"/><circle cx="587.65" cy="124.78" r="1.05"/><circle cx="590.1" cy="107.17" r="1.05"/><circle cx="592.55" cy="89.51" r="1.05"/><circle cx="595" cy="73.67" r="1.05"/><circle cx="597.45" cy="63.3" r="1.05"/><circle cx="599.9" cy="58.35" r="1.05"/><circle cx="602.35" cy="60.55" r="1.05"/><circle cx="604.8" cy="70.08" r="1.05"/><circle cx="607.25" cy="87.36" r="1.05"/><circle cx="609.7" cy="109.15" r="1.05"/><circle cx="612.15" cy="135.21" r="1.05"/><circle cx="614.6" cy="161.72" r="1.05"/><circle cx="617.05" cy="186.02" r="1.05"/><circle cx="619.5" cy="207.53" r="1.05"/><circle cx="621.95" cy="223.97" r="1.05"/><circle cx="624.4" cy="235.78" r="1.05"/><circle cx="626.85" cy="245.51" r="1.05"/><circle cx="629.3" cy="250.24" r="1.05"/><circle cx="631.75" cy="254.58" r="1.05"/><circle cx="634.2" cy="256.41" r="1.05"/><circle cx="636.65" cy="258.54" r="1.05"/><circle cx="639.1" cy="259.57" r="1.05"/><circle cx="641.55" cy="260.08" r="1.05"/><circle cx="644" cy="260.41" r="1.05"/><circle cx="646.45" cy="260.3" r="1.05"/><circle cx="648.9" cy="260.12" r="1.05"/><circle cx="651.35" cy="260.84" r="1.05"/><circle cx="653.8" cy="260.04" r="1.05"/><circle cx="656.25" cy="260.22" r="1.05"/><circle cx="658.7" cy="260.03" r="1.05"/><circle cx="661.15" cy="259.44" r="1.05"/><circle cx="663.6" cy="260.58" r="1.05"/><circle cx="666.05" cy="259.72" r="1.05"/><circle cx="668.5" cy="260.78" r="1.05"/><circle cx="670.95" cy="261.25" r="1.05"/><circle cx="673.4" cy="260.64" r="1.05"/><circle cx="675.85" cy="260.27" r="1.05"/><circle cx="678.3" cy="260.89" r="1.05"/></g></g>
<rect x="71.0" y="294.5" width="194" height="246.3" fill="none" stroke="#1a1a1a" stroke-width="1.05"/>
<path d="M81.78,540.8 v2 M114.11,540.8 v3.0 M146.44,540.8 v2 M178.78,540.8 v3.0 M211.11,540.8 v2 M243.44,540.8 v3.0 M275.78,540.8 v2" stroke="#000" stroke-width="1"/>
<path d="M71,481.2 h1.8 M71,421.9 h1.8 M71,362.6 h1.8 M71,303.3 h1.8" stroke="#000" stroke-width="1.2"/>
<clipPath id="cBL"><rect x="71.5" y="295.1" width="193" height="246.5"/></clipPath>
<g clip-path="url(#cBL)"><path d="M127.5,539.93 L128.5,539.87 L129.5,539.79 L130.5,539.7 L131.5,539.6 L132.5,539.46 L133.5,539.3 L134.5,539.11 L135.5,538.88 L136.5,538.6 L137.5,538.27 L138.5,537.87 L139.5,537.4 L140.5,536.84 L141.5,536.19 L142.5,535.42 L143.5,534.52 L144.5,533.48 L145.5,532.27 L146.5,530.89 L147.5,529.3 L148.5,527.49 L149.5,525.44 L150.5,523.12 L151.5,520.53 L152.5,517.63 L153.5,514.41 L154.5,510.86 L155.5,506.96 L156.5,502.7 L157.5,498.08 L158.5,493.09 L159.5,487.74 L160.5,482.03 L161.5,475.98 L162.5,469.61 L163.5,462.95 L164.5,456.03 L165.5,448.89 L166.5,441.58 L167.5,434.15 L168.5,426.67 L169.5,419.19 L170.5,411.79 L171.5,404.53 L172.5,396.92 L173.5,390.36 L174.5,384.43 L175.5,378.54 L176.5,373.17 L177.5,368.39 L178.5,364.27 L179.5,360.86 L180.5,358.21 L181.5,356.35 L182.5,355.31 L183.5,355.11 L184.5,355.75 L185.5,357.21 L186.5,359.47 L187.5,362.5 L188.5,366.26 L189.5,370.69 L190.5,375.72 L191.5,381.3 L192.5,387.35 L193.5,393.8 L194.5,400.57 L195.5,407.58 L196.5,414.78 L197.5,422.07 L198.5,429.4 L199.5,436.71 L200.5,443.93 L201.5,451 L202.5,457.9 L203.5,464.56 L204.5,470.96 L205.5,477.07 L206.5,482.86 L207.5,488.32 L208.5,493.44 L209.5,498.21 L210.5,502.62 L211.5,506.7 L212.5,510.43 L213.5,513.83 L214.5,516.92 L215.5,519.71 L216.5,522.21 L217.5,524.44 L218.5,526.43 L219.5,528.2 L220.5,529.75 L221.5,531.11 L222.5,532.3 L223.5,533.34 L224.5,534.24 L225.5,535.02 L226.5,535.69 L227.5,536.26 L228.5,536.76 L229.5,537.18 L230.5,537.53 L231.5,537.84 L232.5,538.1 L233.5,538.32 L234.5,538.51 L235.5,538.67 L236.5,538.81 L237.5,538.92 L238.5,539.02 L239.5,539.11 L240.5,539.19 L241.5,539.25 L242.5,539.31 L243.5,539.36 L244.5,539.41 L245.5,539.45 L246.5,539.49 L247.5,539.52 L248.5,539.56 L249.5,539.59 L250.5,539.61 L251.5,539.64 L252.5,539.67 L253.5,539.69 L254.5,539.71 L255.5,539.73 L256.5,539.75 L257.5,539.77 L258.5,539.79 L259.5,539.81 L260.5,539.82 L261.5,539.84 L262.5,539.86 L263.5,539.87 L264.5,539.89 L264.5,540.5 L127.5,540.5 Z" fill="#c4c4ff"/>
<path d="M127.5,539.93 L128.5,539.87 L129.5,539.79 L130.5,539.7 L131.5,539.6 L132.5,539.46 L133.5,539.3 L134.5,539.11 L135.5,538.88 L136.5,538.6 L137.5,538.27 L138.5,537.87 L139.5,537.4 L140.5,536.84 L141.5,536.19 L142.5,535.42 L143.5,534.52 L144.5,533.48 L145.5,532.27 L146.5,530.89 L147.5,529.3 L148.5,527.49 L149.5,525.44 L150.5,523.12 L151.5,520.53 L152.5,517.63 L153.5,514.41 L154.5,510.86 L155.5,506.96 L156.5,502.7 L157.5,498.08 L158.5,493.09 L159.5,487.74 L160.5,482.03 L161.5,475.98 L162.5,469.61 L163.5,462.95 L164.5,456.03 L165.5,448.89 L166.5,441.58 L167.5,434.15 L168.5,426.67 L169.5,419.19 L170.5,411.79 L171.5,404.53 L172.5,396.92 L173.5,390.36 L174.5,384.43 L175.5,378.54 L176.5,373.17 L177.5,368.39 L178.5,364.27 L179.5,360.86 L180.5,358.21 L181.5,356.35 L182.5,355.31 L183.5,355.11 L184.5,355.75 L185.5,357.21 L186.5,359.47 L187.5,362.5 L188.5,366.26 L189.5,370.69 L190.5,375.72 L191.5,381.3 L192.5,387.35 L193.5,393.8 L194.5,400.57 L195.5,407.58 L196.5,414.78 L197.5,422.07 L198.5,429.4 L199.5,436.71 L200.5,443.93 L201.5,451 L202.5,457.9 L203.5,464.56 L204.5,470.96 L205.5,477.07 L206.5,482.86 L207.5,488.32 L208.5,493.44 L209.5,498.21 L210.5,502.62 L211.5,506.7 L212.5,510.43 L213.5,513.83 L214.5,516.92 L215.5,519.71 L216.5,522.21 L217.5,524.44 L218.5,526.43 L219.5,528.2 L220.5,529.75 L221.5,531.11 L222.5,532.3 L223.5,533.34 L224.5,534.24 L225.5,535.02 L226.5,535.69 L227.5,536.26 L228.5,536.76 L229.5,537.18 L230.5,537.53 L231.5,537.84 L232.5,538.1 L233.5,538.32 L234.5,538.51 L235.5,538.67 L236.5,538.81 L237.5,538.92 L238.5,539.02 L239.5,539.11 L240.5,539.19 L241.5,539.25 L242.5,539.31 L243.5,539.36 L244.5,539.41 L245.5,539.45 L246.5,539.49 L247.5,539.52 L248.5,539.56 L249.5,539.59 L250.5,539.61 L251.5,539.64 L252.5,539.67 L253.5,539.69 L254.5,539.71 L255.5,539.73 L256.5,539.75 L257.5,539.77 L258.5,539.79 L259.5,539.81 L260.5,539.82 L261.5,539.84 L262.5,539.86 L263.5,539.87 L264.5,539.89" fill="none" stroke="#1e1ef0" stroke-width="1.5"/>
<path d="M141.5,539.9 L142.5,539.88 L143.5,539.86 L144.5,539.84 L145.5,539.82 L146.5,539.79 L147.5,539.76 L148.5,539.74 L149.5,539.7 L150.5,539.67 L151.5,539.63 L152.5,539.59 L153.5,539.55 L154.5,539.5 L155.5,539.44 L156.5,539.37 L157.5,539.29 L158.5,539.21 L159.5,539.1 L160.5,538.98 L161.5,538.83 L162.5,538.65 L163.5,538.44 L164.5,538.19 L165.5,537.89 L166.5,537.53 L167.5,537.1 L168.5,536.6 L169.5,536 L170.5,535.3 L171.5,534.47 L172.5,533.52 L173.5,532.42 L174.5,531.16 L175.5,529.72 L176.5,528.1 L177.5,526.28 L178.5,524.25 L179.5,522.02 L180.5,519.58 L181.5,516.94 L182.5,514.1 L183.5,511.08 L184.5,507.9 L185.5,504.59 L186.5,501.18 L187.5,497.7 L188.5,494.2 L189.5,490.73 L190.5,487.35 L191.5,484.11 L192.5,481.07 L193.5,478.29 L194.5,475.83 L195.5,473.76 L196.5,472.12 L197.5,470.96 L198.5,470.31 L199.5,470.19 L200.5,470.49 L201.5,471.17 L202.5,472.22 L203.5,473.61 L204.5,475.33 L205.5,477.34 L206.5,479.61 L207.5,482.09 L208.5,484.76 L209.5,487.58 L210.5,490.51 L211.5,493.51 L212.5,496.54 L213.5,499.58 L214.5,502.59 L215.5,505.54 L216.5,508.42 L217.5,511.19 L218.5,513.85 L219.5,516.37 L220.5,518.76 L221.5,520.99 L222.5,523.06 L223.5,524.98 L224.5,526.73 L225.5,528.34 L226.5,529.79 L227.5,531.1 L228.5,532.27 L229.5,533.31 L230.5,534.23 L231.5,535.04 L232.5,535.76 L233.5,536.37 L234.5,536.91 L235.5,537.38 L236.5,537.77 L237.5,538.12 L238.5,538.41 L239.5,538.65 L240.5,538.86 L241.5,539.04 L242.5,539.19 L243.5,539.32 L244.5,539.43 L245.5,539.52 L246.5,539.59 L247.5,539.66 L248.5,539.72 L249.5,539.76 L250.5,539.81 L251.5,539.84 L252.5,539.88 L252.5,540.5 L141.5,540.5 Z" fill="rgba(110,110,110,0.5)"/>
<path d="M141.5,539.9 L142.5,539.88 L143.5,539.86 L144.5,539.84 L145.5,539.82 L146.5,539.79 L147.5,539.76 L148.5,539.74 L149.5,539.7 L150.5,539.67 L151.5,539.63 L152.5,539.59 L153.5,539.55 L154.5,539.5 L155.5,539.44 L156.5,539.37 L157.5,539.29 L158.5,539.21 L159.5,539.1 L160.5,538.98 L161.5,538.83 L162.5,538.65 L163.5,538.44 L164.5,538.19 L165.5,537.89 L166.5,537.53 L167.5,537.1 L168.5,536.6 L169.5,536 L170.5,535.3 L171.5,534.47 L172.5,533.52 L173.5,532.42 L174.5,531.16 L175.5,529.72 L176.5,528.1 L177.5,526.28 L178.5,524.25 L179.5,522.02 L180.5,519.58 L181.5,516.94 L182.5,514.1 L183.5,511.08 L184.5,507.9 L185.5,504.59 L186.5,501.18 L187.5,497.7 L188.5,494.2 L189.5,490.73 L190.5,487.35 L191.5,484.11 L192.5,481.07 L193.5,478.29 L194.5,475.83 L195.5,473.76 L196.5,472.12 L197.5,470.96 L198.5,470.31 L199.5,470.19 L200.5,470.49 L201.5,471.17 L202.5,472.22 L203.5,473.61 L204.5,475.33 L205.5,477.34 L206.5,479.61 L207.5,482.09 L208.5,484.76 L209.5,487.58 L210.5,490.51 L211.5,493.51 L212.5,496.54 L213.5,499.58 L214.5,502.59 L215.5,505.54 L216.5,508.42 L217.5,511.19 L218.5,513.85 L219.5,516.37 L220.5,518.76 L221.5,520.99 L222.5,523.06 L223.5,524.98 L224.5,526.73 L225.5,528.34 L226.5,529.79 L227.5,531.1 L228.5,532.27 L229.5,533.31 L230.5,534.23 L231.5,535.04 L232.5,535.76 L233.5,536.37 L234.5,536.91 L235.5,537.38 L236.5,537.77 L237.5,538.12 L238.5,538.41 L239.5,538.65 L240.5,538.86 L241.5,539.04 L242.5,539.19 L243.5,539.32 L244.5,539.43 L245.5,539.52 L246.5,539.59 L247.5,539.66 L248.5,539.72 L249.5,539.76 L250.5,539.81 L251.5,539.84 L252.5,539.88" fill="none" stroke="#000" stroke-width="1.4"/>
<path d="M71.5,540.98 L72.5,540.98 L73.5,540.98 L74.5,540.97 L75.5,540.97 L76.5,540.97 L77.5,540.97 L78.5,540.96 L79.5,540.96 L80.5,540.96 L81.5,540.96 L82.5,540.95 L83.5,540.95 L84.5,540.95 L85.5,540.95 L86.5,540.94 L87.5,540.94 L88.5,540.94 L89.5,540.93 L90.5,540.93 L91.5,540.93 L92.5,540.92 L93.5,540.92 L94.5,540.92 L95.5,540.91 L96.5,540.91 L97.5,540.9 L98.5,540.9 L99.5,540.9 L100.5,540.89 L101.5,540.89 L102.5,540.88 L103.5,540.88 L104.5,540.87 L105.5,540.87 L106.5,540.86 L107.5,540.85 L108.5,540.85 L109.5,540.84 L110.5,540.83 L111.5,540.83 L112.5,540.82 L113.5,540.81 L114.5,540.8 L115.5,540.79 L116.5,540.78 L117.5,540.76 L118.5,540.75 L119.5,540.73 L120.5,540.71 L121.5,540.69 L122.5,540.66 L123.5,540.63 L124.5,540.59 L125.5,540.54 L126.5,540.49 L127.5,540.43 L128.5,540.35 L129.5,540.26 L130.5,540.15 L131.5,540.01 L132.5,539.86 L133.5,539.67 L134.5,539.45 L135.5,539.18 L136.5,538.87 L137.5,538.51 L138.5,538.08 L139.5,537.57 L140.5,536.98 L141.5,536.3 L142.5,535.5 L143.5,534.59 L144.5,533.53 L145.5,532.33 L146.5,530.95 L147.5,529.39 L148.5,527.62 L149.5,525.63 L150.5,523.39 L151.5,520.9 L152.5,518.12 L153.5,515.05 L154.5,511.66 L155.5,507.94 L156.5,503.88 L157.5,499.47 L158.5,494.7 L159.5,489.56 L160.5,484.05 L161.5,478.18 L162.5,471.95 L163.5,465.38 L164.5,458.48 L165.5,451.28 L166.5,443.81 L167.5,436.1 L168.5,428.19 L169.5,420.12 L170.5,411.96 L171.5,403.75 L172.5,395.56 L173.5,387.44 L174.5,379.47 L175.5,371.71 L176.5,364.24 L177.5,357.12 L178.5,350.43 L179.5,344.22 L180.5,338.57 L181.5,333.54 L182.5,329.18 L183.5,325.53 L184.5,322.65 L185.5,320.56 L186.5,319.29 L187.5,318.85 L188.5,319.25 L189.5,320.48 L190.5,322.53 L191.5,325.38 L192.5,328.99 L193.5,333.32 L194.5,338.32 L195.5,343.94 L196.5,350.12 L197.5,356.79 L198.5,363.88 L199.5,371.32 L200.5,379.05 L201.5,386.97 L202.5,395.03 L203.5,403.15 L204.5,411.25 L205.5,419.26 L206.5,427.11 L207.5,434.75 L208.5,442.11 L209.5,449.14 L210.5,455.81 L211.5,462.09 L212.5,467.98 L213.5,473.46 L214.5,478.58 L215.5,483.35 L216.5,487.81 L217.5,492.02 L218.5,496.02 L219.5,499.84 L220.5,503.52 L221.5,507.08 L222.5,510.51 L223.5,513.81 L224.5,516.96 L225.5,519.94 L226.5,522.71 L227.5,525.26 L228.5,527.56 L229.5,529.62 L230.5,531.42 L231.5,532.98 L232.5,534.31 L233.5,535.43 L234.5,536.37 L235.5,537.15 L236.5,537.79 L237.5,538.32 L238.5,538.75 L239.5,539.1 L240.5,539.4 L241.5,539.64 L242.5,539.84 L243.5,540 L244.5,540.14 L245.5,540.25 L246.5,540.34 L247.5,540.42 L248.5,540.49 L249.5,540.54 L250.5,540.59 L251.5,540.63 L252.5,540.66 L253.5,540.69 L254.5,540.71 L255.5,540.73 L256.5,540.75 L257.5,540.76 L258.5,540.78 L259.5,540.79 L260.5,540.8 L261.5,540.81 L262.5,540.82 L263.5,540.83 L264.5,540.83" fill="none" stroke="#f00" stroke-width="1.4"/>
<g fill="#000"><circle cx="72.7" cy="540.2" r="1.05"/><circle cx="74.86" cy="540.2" r="1.05"/><circle cx="77.02" cy="540.2" r="1.05"/><circle cx="79.18" cy="540.2" r="1.05"/><circle cx="81.34" cy="540.2" r="1.05"/><circle cx="83.5" cy="540.2" r="1.05"/><circle cx="85.66" cy="540.2" r="1.05"/><circle cx="87.82" cy="540.2" r="1.05"/><circle cx="89.98" cy="540.2" r="1.05"/><circle cx="92.14" cy="540.2" r="1.05"/><circle cx="94.3" cy="540.2" r="1.05"/><circle cx="96.46" cy="540.2" r="1.05"/><circle cx="98.62" cy="540.2" r="1.05"/><circle cx="100.78" cy="540.2" r="1.05"/><circle cx="102.94" cy="540.2" r="1.05"/><circle cx="105.1" cy="540.2" r="1.05"/><circle cx="107.26" cy="540.2" r="1.05"/><circle cx="109.42" cy="540.2" r="1.05"/><circle cx="111.58" cy="540.2" r="1.05"/><circle cx="113.74" cy="540.2" r="1.05"/><circle cx="115.9" cy="540.2" r="1.05"/><circle cx="118.06" cy="540.2" r="1.05"/><circle cx="120.22" cy="540.2" r="1.05"/><circle cx="122.38" cy="540.2" r="1.05"/><circle cx="124.54" cy="540.2" r="1.05"/><circle cx="126.7" cy="540.2" r="1.05"/><circle cx="128.86" cy="540.2" r="1.05"/><circle cx="131.02" cy="540.2" r="1.05"/><circle cx="133.18" cy="540.2" r="1.05"/><circle cx="135.34" cy="539.71" r="1.05"/><circle cx="137.5" cy="538.85" r="1.05"/><circle cx="139.66" cy="538.17" r="1.05"/><circle cx="141.82" cy="536.15" r="1.05"/><circle cx="143.98" cy="534.51" r="1.05"/><circle cx="146.14" cy="531.32" r="1.05"/><circle cx="148.3" cy="528.46" r="1.05"/><circle cx="150.46" cy="522.05" r="1.05"/><circle cx="152.62" cy="517.86" r="1.05"/><circle cx="154.78" cy="510.29" r="1.05"/><circle cx="156.94" cy="501.16" r="1.05"/><circle cx="159.1" cy="491.02" r="1.05"/><circle cx="161.26" cy="479.37" r="1.05"/><circle cx="163.42" cy="466.36" r="1.05"/><circle cx="165.58" cy="450.74" r="1.05"/><circle cx="167.74" cy="433.52" r="1.05"/><circle cx="169.9" cy="417.07" r="1.05"/><circle cx="172.06" cy="399.76" r="1.05"/><circle cx="174.22" cy="381.43" r="1.05"/><circle cx="176.38" cy="364.78" r="1.05"/><circle cx="178.54" cy="349.27" r="1.05"/><circle cx="180.7" cy="337.99" r="1.05"/><circle cx="182.86" cy="326.72" r="1.05"/><circle cx="185.02" cy="321.37" r="1.05"/><circle cx="187.18" cy="319.05" r="1.05"/><circle cx="189.34" cy="320.45" r="1.05"/><circle cx="191.5" cy="325.99" r="1.05"/><circle cx="193.66" cy="334.18" r="1.05"/><circle cx="195.82" cy="345.15" r="1.05"/><circle cx="197.98" cy="359.65" r="1.05"/><circle cx="200.14" cy="375.43" r="1.05"/><circle cx="202.3" cy="393.17" r="1.05"/><circle cx="204.46" cy="410.93" r="1.05"/><circle cx="206.62" cy="428.37" r="1.05"/><circle cx="208.78" cy="443.94" r="1.05"/><circle cx="210.94" cy="458.61" r="1.05"/><circle cx="213.1" cy="471.41" r="1.05"/><circle cx="215.26" cy="481.97" r="1.05"/><circle cx="217.42" cy="492.07" r="1.05"/><circle cx="219.58" cy="499.92" r="1.05"/><circle cx="221.74" cy="508.01" r="1.05"/><circle cx="223.9" cy="515.62" r="1.05"/><circle cx="226.06" cy="521.98" r="1.05"/><circle cx="228.22" cy="526.15" r="1.05"/><circle cx="230.38" cy="531.88" r="1.05"/><circle cx="232.54" cy="534.3" r="1.05"/><circle cx="234.7" cy="535.38" r="1.05"/><circle cx="236.86" cy="538.46" r="1.05"/><circle cx="239.02" cy="539.9" r="1.05"/><circle cx="241.18" cy="540.2" r="1.05"/><circle cx="243.34" cy="540.2" r="1.05"/><circle cx="245.5" cy="540.2" r="1.05"/><circle cx="247.66" cy="540.2" r="1.05"/><circle cx="249.82" cy="540.2" r="1.05"/><circle cx="251.98" cy="540.2" r="1.05"/><circle cx="254.14" cy="540.2" r="1.05"/><circle cx="256.3" cy="540.2" r="1.05"/><circle cx="258.46" cy="540.2" r="1.05"/><circle cx="260.62" cy="540.2" r="1.05"/><circle cx="262.78" cy="540.2" r="1.05"/></g></g>
<rect x="278.0" y="295.0" width="194" height="245.8" fill="none" stroke="#1a1a1a" stroke-width="1.05"/>
<path d="M288.78,540.8 v2 M321.11,540.8 v3.0 M353.44,540.8 v2 M385.78,540.8 v3.0 M418.11,540.8 v2 M450.44,540.8 v3.0 M482.78,540.8 v2" stroke="#000" stroke-width="1"/>
<path d="M278,440.1 h1.8 M278,339.6 h1.8" stroke="#000" stroke-width="1.2"/>
<clipPath id="cBM"><rect x="278.5" y="295.6" width="193" height="246"/></clipPath>
<g clip-path="url(#cBM)"><path d="M303.5,540.01 L304.5,540 L305.5,539.98 L306.5,539.97 L307.5,539.95 L308.5,539.93 L309.5,539.92 L310.5,539.9 L311.5,539.88 L312.5,539.86 L313.5,539.84 L314.5,539.81 L315.5,539.79 L316.5,539.76 L317.5,539.74 L318.5,539.7 L319.5,539.67 L320.5,539.63 L321.5,539.59 L322.5,539.54 L323.5,539.49 L324.5,539.43 L325.5,539.36 L326.5,539.28 L327.5,539.18 L328.5,539.07 L329.5,538.95 L330.5,538.79 L331.5,538.62 L332.5,538.41 L333.5,538.16 L334.5,537.86 L335.5,537.52 L336.5,537.11 L337.5,536.64 L338.5,536.08 L339.5,535.43 L340.5,534.67 L341.5,533.8 L342.5,532.78 L343.5,531.61 L344.5,530.27 L345.5,528.74 L346.5,526.99 L347.5,525.02 L348.5,522.79 L349.5,520.29 L350.5,517.5 L351.5,514.39 L352.5,510.95 L353.5,507.17 L354.5,503.02 L355.5,498.5 L356.5,493.6 L357.5,488.31 L358.5,482.64 L359.5,476.59 L360.5,470.18 L361.5,463.41 L362.5,456.32 L363.5,448.93 L364.5,441.29 L365.5,433.43 L366.5,425.41 L367.5,417.28 L368.5,409.1 L369.5,400.95 L370.5,392.89 L371.5,385 L372.5,377.36 L373.5,370.04 L374.5,363.13 L375.5,356.71 L376.5,350.85 L377.5,345.63 L378.5,340.91 L379.5,336.77 L380.5,334.41 L381.5,332.33 L382.5,331.13 L383.5,330.83 L384.5,331.49 L385.5,333.14 L386.5,335.73 L387.5,339.23 L388.5,343.6 L389.5,348.77 L390.5,354.67 L391.5,361.22 L392.5,368.33 L393.5,375.92 L394.5,383.89 L395.5,392.15 L396.5,400.62 L397.5,409.19 L398.5,417.8 L399.5,426.37 L400.5,434.81 L401.5,443.06 L402.5,451.07 L403.5,458.79 L404.5,466.17 L405.5,473.18 L406.5,479.79 L407.5,486 L408.5,491.77 L409.5,497.13 L410.5,502.05 L411.5,506.56 L412.5,510.66 L413.5,514.37 L414.5,517.71 L415.5,520.69 L416.5,523.35 L417.5,525.7 L418.5,527.77 L419.5,529.58 L420.5,531.16 L421.5,532.53 L422.5,533.71 L423.5,534.73 L424.5,535.6 L425.5,536.33 L426.5,536.96 L427.5,537.49 L428.5,537.94 L429.5,538.31 L430.5,538.62 L431.5,538.88 L432.5,539.1 L433.5,539.28 L434.5,539.43 L435.5,539.55 L436.5,539.65 L437.5,539.74 L438.5,539.81 L439.5,539.87 L440.5,539.92 L441.5,539.96 L442.5,540 L442.5,540.6 L303.5,540.6 Z" fill="#c4c4ff"/>
<path d="M303.5,540.01 L304.5,540 L305.5,539.98 L306.5,539.97 L307.5,539.95 L308.5,539.93 L309.5,539.92 L310.5,539.9 L311.5,539.88 L312.5,539.86 L313.5,539.84 L314.5,539.81 L315.5,539.79 L316.5,539.76 L317.5,539.74 L318.5,539.7 L319.5,539.67 L320.5,539.63 L321.5,539.59 L322.5,539.54 L323.5,539.49 L324.5,539.43 L325.5,539.36 L326.5,539.28 L327.5,539.18 L328.5,539.07 L329.5,538.95 L330.5,538.79 L331.5,538.62 L332.5,538.41 L333.5,538.16 L334.5,537.86 L335.5,537.52 L336.5,537.11 L337.5,536.64 L338.5,536.08 L339.5,535.43 L340.5,534.67 L341.5,533.8 L342.5,532.78 L343.5,531.61 L344.5,530.27 L345.5,528.74 L346.5,526.99 L347.5,525.02 L348.5,522.79 L349.5,520.29 L350.5,517.5 L351.5,514.39 L352.5,510.95 L353.5,507.17 L354.5,503.02 L355.5,498.5 L356.5,493.6 L357.5,488.31 L358.5,482.64 L359.5,476.59 L360.5,470.18 L361.5,463.41 L362.5,456.32 L363.5,448.93 L364.5,441.29 L365.5,433.43 L366.5,425.41 L367.5,417.28 L368.5,409.1 L369.5,400.95 L370.5,392.89 L371.5,385 L372.5,377.36 L373.5,370.04 L374.5,363.13 L375.5,356.71 L376.5,350.85 L377.5,345.63 L378.5,340.91 L379.5,336.77 L380.5,334.41 L381.5,332.33 L382.5,331.13 L383.5,330.83 L384.5,331.49 L385.5,333.14 L386.5,335.73 L387.5,339.23 L388.5,343.6 L389.5,348.77 L390.5,354.67 L391.5,361.22 L392.5,368.33 L393.5,375.92 L394.5,383.89 L395.5,392.15 L396.5,400.62 L397.5,409.19 L398.5,417.8 L399.5,426.37 L400.5,434.81 L401.5,443.06 L402.5,451.07 L403.5,458.79 L404.5,466.17 L405.5,473.18 L406.5,479.79 L407.5,486 L408.5,491.77 L409.5,497.13 L410.5,502.05 L411.5,506.56 L412.5,510.66 L413.5,514.37 L414.5,517.71 L415.5,520.69 L416.5,523.35 L417.5,525.7 L418.5,527.77 L419.5,529.58 L420.5,531.16 L421.5,532.53 L422.5,533.71 L423.5,534.73 L424.5,535.6 L425.5,536.33 L426.5,536.96 L427.5,537.49 L428.5,537.94 L429.5,538.31 L430.5,538.62 L431.5,538.88 L432.5,539.1 L433.5,539.28 L434.5,539.43 L435.5,539.55 L436.5,539.65 L437.5,539.74 L438.5,539.81 L439.5,539.87 L440.5,539.92 L441.5,539.96 L442.5,540" fill="none" stroke="#1e1ef0" stroke-width="1.5"/>
<path d="M366.5,540.09 L367.5,539.95 L368.5,539.77 L369.5,539.55 L370.5,539.29 L371.5,538.97 L372.5,538.58 L373.5,538.12 L374.5,537.58 L375.5,536.94 L376.5,536.2 L377.5,535.35 L378.5,534.37 L379.5,533.26 L380.5,532.01 L381.5,530.62 L382.5,529.08 L383.5,527.39 L384.5,525.56 L385.5,523.59 L386.5,521.49 L387.5,519.28 L388.5,516.98 L389.5,514.6 L390.5,512.19 L391.5,509.75 L392.5,507.34 L393.5,504.98 L394.5,502.71 L395.5,500.58 L396.5,498.61 L397.5,496.84 L398.5,495.3 L399.5,494.04 L400.5,493.06 L401.5,492.39 L402.5,492.04 L403.5,492.03 L404.5,492.38 L405.5,493.09 L406.5,494.14 L407.5,495.51 L408.5,497.18 L409.5,499.1 L410.5,501.24 L411.5,503.55 L412.5,505.99 L413.5,508.51 L414.5,511.07 L415.5,513.64 L416.5,516.17 L417.5,518.63 L418.5,520.99 L419.5,523.23 L420.5,525.33 L421.5,527.28 L422.5,529.07 L423.5,530.69 L424.5,532.15 L425.5,533.45 L426.5,534.6 L427.5,535.6 L428.5,536.46 L429.5,537.2 L430.5,537.83 L431.5,538.36 L432.5,538.8 L433.5,539.17 L434.5,539.47 L435.5,539.71 L436.5,539.91 L436.5,540.6 L366.5,540.6 Z" fill="rgba(110,110,110,0.5)"/>
<path d="M366.5,540.09 L367.5,539.95 L368.5,539.77 L369.5,539.55 L370.5,539.29 L371.5,538.97 L372.5,538.58 L373.5,538.12 L374.5,537.58 L375.5,536.94 L376.5,536.2 L377.5,535.35 L378.5,534.37 L379.5,533.26 L380.5,532.01 L381.5,530.62 L382.5,529.08 L383.5,527.39 L384.5,525.56 L385.5,523.59 L386.5,521.49 L387.5,519.28 L388.5,516.98 L389.5,514.6 L390.5,512.19 L391.5,509.75 L392.5,507.34 L393.5,504.98 L394.5,502.71 L395.5,500.58 L396.5,498.61 L397.5,496.84 L398.5,495.3 L399.5,494.04 L400.5,493.06 L401.5,492.39 L402.5,492.04 L403.5,492.03 L404.5,492.38 L405.5,493.09 L406.5,494.14 L407.5,495.51 L408.5,497.18 L409.5,499.1 L410.5,501.24 L411.5,503.55 L412.5,505.99 L413.5,508.51 L414.5,511.07 L415.5,513.64 L416.5,516.17 L417.5,518.63 L418.5,520.99 L419.5,523.23 L420.5,525.33 L421.5,527.28 L422.5,529.07 L423.5,530.69 L424.5,532.15 L425.5,533.45 L426.5,534.6 L427.5,535.6 L428.5,536.46 L429.5,537.2 L430.5,537.83 L431.5,538.36 L432.5,538.8 L433.5,539.17 L434.5,539.47 L435.5,539.71 L436.5,539.91" fill="none" stroke="#000" stroke-width="1.4"/>
<path d="M278.5,541.1 L279.5,541.1 L280.5,541.1 L281.5,541.1 L282.5,541.1 L283.5,541.1 L284.5,541.1 L285.5,541.1 L286.5,541.1 L287.5,541.1 L288.5,541.1 L289.5,541.1 L290.5,541.1 L291.5,541.1 L292.5,541.1 L293.5,541.1 L294.5,541.1 L295.5,541.1 L296.5,541.1 L297.5,541.1 L298.5,541.1 L299.5,541.1 L300.5,541.09 L301.5,541.09 L302.5,541.09 L303.5,541.09 L304.5,541.09 L305.5,541.08 L306.5,541.08 L307.5,541.08 L308.5,541.07 L309.5,541.07 L310.5,541.06 L311.5,541.05 L312.5,541.04 L313.5,541.03 L314.5,541.01 L315.5,540.99 L316.5,540.97 L317.5,540.95 L318.5,540.92 L319.5,540.88 L320.5,540.84 L321.5,540.79 L322.5,540.74 L323.5,540.67 L324.5,540.59 L325.5,540.5 L326.5,540.39 L327.5,540.26 L328.5,540.12 L329.5,539.94 L330.5,539.74 L331.5,539.51 L332.5,539.24 L333.5,538.92 L334.5,538.56 L335.5,538.14 L336.5,537.65 L337.5,537.09 L338.5,536.45 L339.5,535.72 L340.5,534.89 L341.5,533.93 L342.5,532.85 L343.5,531.63 L344.5,530.25 L345.5,528.69 L346.5,526.94 L347.5,524.99 L348.5,522.81 L349.5,520.39 L350.5,517.71 L351.5,514.75 L352.5,511.5 L353.5,507.94 L354.5,504.06 L355.5,499.84 L356.5,495.29 L357.5,490.38 L358.5,485.11 L359.5,479.49 L360.5,473.52 L361.5,467.21 L362.5,460.57 L363.5,453.62 L364.5,446.38 L365.5,438.88 L366.5,431.16 L367.5,423.26 L368.5,415.21 L369.5,407.08 L370.5,398.91 L371.5,390.78 L372.5,382.73 L373.5,374.83 L374.5,367.16 L375.5,359.77 L376.5,352.75 L377.5,346.15 L378.5,340.04 L379.5,334.49 L380.5,329.54 L381.5,325.26 L382.5,321.69 L383.5,318.87 L384.5,316.83 L385.5,315.59 L386.5,315.18 L387.5,315.58 L388.5,316.81 L389.5,318.85 L390.5,321.67 L391.5,325.25 L392.5,329.55 L393.5,334.52 L394.5,340.12 L395.5,346.28 L396.5,352.94 L397.5,360.03 L398.5,367.5 L399.5,375.26 L400.5,383.26 L401.5,391.42 L402.5,399.67 L403.5,407.95 L404.5,416.2 L405.5,424.37 L406.5,432.39 L407.5,440.23 L408.5,447.84 L409.5,455.18 L410.5,462.23 L411.5,468.96 L412.5,475.34 L413.5,481.38 L414.5,487.04 L415.5,492.35 L416.5,497.28 L417.5,501.85 L418.5,506.07 L419.5,509.94 L420.5,513.47 L421.5,516.69 L422.5,519.6 L423.5,522.23 L424.5,524.59 L425.5,526.7 L426.5,528.59 L427.5,530.26 L428.5,531.73 L429.5,533.03 L430.5,534.17 L431.5,535.17 L432.5,536.04 L433.5,536.79 L434.5,537.44 L435.5,538 L436.5,538.49 L437.5,538.9 L438.5,539.25 L439.5,539.55 L440.5,539.81 L441.5,540.02 L442.5,540.2 L443.5,540.35 L444.5,540.48 L445.5,540.59 L446.5,540.68 L447.5,540.75 L448.5,540.81 L449.5,540.87 L450.5,540.91 L451.5,540.94 L452.5,540.97 L453.5,541 L454.5,541.01 L455.5,541.03 L456.5,541.04 L457.5,541.05 L458.5,541.06 L459.5,541.07 L460.5,541.08 L461.5,541.08 L462.5,541.08 L463.5,541.09 L464.5,541.09 L465.5,541.09 L466.5,541.09 L467.5,541.09 L468.5,541.1 L469.5,541.1 L470.5,541.1 L471.5,541.1" fill="none" stroke="#f00" stroke-width="1.4"/>
<g fill="#000"><circle cx="279.7" cy="540.2" r="1.05"/><circle cx="281.86" cy="540.2" r="1.05"/><circle cx="284.02" cy="540.2" r="1.05"/><circle cx="286.18" cy="540.2" r="1.05"/><circle cx="288.34" cy="540.2" r="1.05"/><circle cx="290.5" cy="540.2" r="1.05"/><circle cx="292.66" cy="540.2" r="1.05"/><circle cx="294.82" cy="540.2" r="1.05"/><circle cx="296.98" cy="540.2" r="1.05"/><circle cx="299.14" cy="540.2" r="1.05"/><circle cx="301.3" cy="540.2" r="1.05"/><circle cx="303.46" cy="540.2" r="1.05"/><circle cx="305.62" cy="540.2" r="1.05"/><circle cx="307.78" cy="540.2" r="1.05"/><circle cx="309.94" cy="540.2" r="1.05"/><circle cx="312.1" cy="540.2" r="1.05"/><circle cx="314.26" cy="540.2" r="1.05"/><circle cx="316.42" cy="540.2" r="1.05"/><circle cx="318.58" cy="540.2" r="1.05"/><circle cx="320.74" cy="540.2" r="1.05"/><circle cx="322.9" cy="540.2" r="1.05"/><circle cx="325.06" cy="540.2" r="1.05"/><circle cx="327.22" cy="540.2" r="1.05"/><circle cx="329.38" cy="540.2" r="1.05"/><circle cx="331.54" cy="540.2" r="1.05"/><circle cx="333.7" cy="539.67" r="1.05"/><circle cx="335.86" cy="538.37" r="1.05"/><circle cx="338.02" cy="537.58" r="1.05"/><circle cx="340.18" cy="535.19" r="1.05"/><circle cx="342.34" cy="532.43" r="1.05"/><circle cx="344.5" cy="529.92" r="1.05"/><circle cx="346.66" cy="526.88" r="1.05"/><circle cx="348.82" cy="522.49" r="1.05"/><circle cx="350.98" cy="516.03" r="1.05"/><circle cx="353.14" cy="509.53" r="1.05"/><circle cx="355.3" cy="501.23" r="1.05"/><circle cx="357.46" cy="490.37" r="1.05"/><circle cx="359.62" cy="478.16" r="1.05"/><circle cx="361.78" cy="464.55" r="1.05"/><circle cx="363.94" cy="450.75" r="1.05"/><circle cx="366.1" cy="434.64" r="1.05"/><circle cx="368.26" cy="416.45" r="1.05"/><circle cx="370.42" cy="399.57" r="1.05"/><circle cx="372.58" cy="381.55" r="1.05"/><circle cx="374.74" cy="365.39" r="1.05"/><circle cx="376.9" cy="350.19" r="1.05"/><circle cx="379.06" cy="336.43" r="1.05"/><circle cx="381.22" cy="326.17" r="1.05"/><circle cx="383.38" cy="319.05" r="1.05"/><circle cx="385.54" cy="315.05" r="1.05"/><circle cx="387.7" cy="315.26" r="1.05"/><circle cx="389.86" cy="319.35" r="1.05"/><circle cx="392.02" cy="327.89" r="1.05"/><circle cx="394.18" cy="338.39" r="1.05"/><circle cx="396.34" cy="352.5" r="1.05"/><circle cx="398.5" cy="367.11" r="1.05"/><circle cx="400.66" cy="383.95" r="1.05"/><circle cx="402.82" cy="402.68" r="1.05"/><circle cx="404.98" cy="420.22" r="1.05"/><circle cx="407.14" cy="436.92" r="1.05"/><circle cx="409.3" cy="454.64" r="1.05"/><circle cx="411.46" cy="470.03" r="1.05"/><circle cx="413.62" cy="481.82" r="1.05"/><circle cx="415.78" cy="493.65" r="1.05"/><circle cx="417.94" cy="504.8" r="1.05"/><circle cx="420.1" cy="512.3" r="1.05"/><circle cx="422.26" cy="519.09" r="1.05"/><circle cx="424.42" cy="525.1" r="1.05"/><circle cx="426.58" cy="528.34" r="1.05"/><circle cx="428.74" cy="531.26" r="1.05"/><circle cx="430.9" cy="534.61" r="1.05"/><circle cx="433.06" cy="536.99" r="1.05"/><circle cx="435.22" cy="539.05" r="1.05"/><circle cx="437.38" cy="539.39" r="1.05"/><circle cx="439.54" cy="540.2" r="1.05"/><circle cx="441.7" cy="540.2" r="1.05"/><circle cx="443.86" cy="540.2" r="1.05"/><circle cx="446.02" cy="540.2" r="1.05"/><circle cx="448.18" cy="540.2" r="1.05"/><circle cx="450.34" cy="540.2" r="1.05"/><circle cx="452.5" cy="540.2" r="1.05"/><circle cx="454.66" cy="540.2" r="1.05"/><circle cx="456.82" cy="540.2" r="1.05"/><circle cx="458.98" cy="540.2" r="1.05"/><circle cx="461.14" cy="540.2" r="1.05"/><circle cx="463.3" cy="540.2" r="1.05"/><circle cx="465.46" cy="540.2" r="1.05"/><circle cx="467.62" cy="540.2" r="1.05"/><circle cx="469.78" cy="540.2" r="1.05"/></g></g>
<rect x="485.0" y="295.0" width="193.5" height="245.8" fill="none" stroke="#1a1a1a" stroke-width="1.05"/>
<path d="M495.75,540.8 v2 M528,540.8 v3.0 M560.25,540.8 v2 M592.5,540.8 v3.0 M624.75,540.8 v2 M657,540.8 v3.0 M689.25,540.8 v2" stroke="#000" stroke-width="1"/>
<path d="M485,491 h1.8 M485,441.5 h1.8 M485,392 h1.8 M485,342.5 h1.8" stroke="#000" stroke-width="1.2"/>
<clipPath id="cBR"><rect x="485.5" y="295.6" width="192.5" height="246"/></clipPath>
<g clip-path="url(#cBR)"><path d="M527.5,539.93 L528.5,539.89 L529.5,539.86 L530.5,539.81 L531.5,539.76 L532.5,539.7 L533.5,539.63 L534.5,539.55 L535.5,539.45 L536.5,539.33 L537.5,539.19 L538.5,539.02 L539.5,538.82 L540.5,538.58 L541.5,538.3 L542.5,537.97 L543.5,537.58 L544.5,537.12 L545.5,536.58 L546.5,535.95 L547.5,535.22 L548.5,534.38 L549.5,533.41 L550.5,532.29 L551.5,531.01 L552.5,529.55 L553.5,527.9 L554.5,526.04 L555.5,523.94 L556.5,521.6 L557.5,518.99 L558.5,516.1 L559.5,512.91 L560.5,509.41 L561.5,505.59 L562.5,501.43 L563.5,496.94 L564.5,492.11 L565.5,486.94 L566.5,481.44 L567.5,475.62 L568.5,469.5 L569.5,463.1 L570.5,456.45 L571.5,449.58 L572.5,442.53 L573.5,435.34 L574.5,428.07 L575.5,420.76 L576.5,413.48 L577.5,406.12 L578.5,398.66 L579.5,391.9 L580.5,385.89 L581.5,379.72 L582.5,373.96 L583.5,368.69 L584.5,363.97 L585.5,359.85 L586.5,356.39 L587.5,353.62 L588.5,351.59 L589.5,350.31 L590.5,349.82 L591.5,350.15 L592.5,351.4 L593.5,353.55 L594.5,356.56 L595.5,360.39 L596.5,364.98 L597.5,370.28 L598.5,376.21 L599.5,382.68 L600.5,389.62 L601.5,396.94 L602.5,404.55 L603.5,412.36 L604.5,420.3 L605.5,428.27 L606.5,436.21 L607.5,444.04 L608.5,451.7 L609.5,459.14 L610.5,466.3 L611.5,473.15 L612.5,479.64 L613.5,485.77 L614.5,491.5 L615.5,496.83 L616.5,501.76 L617.5,506.29 L618.5,510.42 L619.5,514.17 L620.5,517.55 L621.5,520.58 L622.5,523.29 L623.5,525.69 L624.5,527.8 L625.5,529.65 L626.5,531.27 L627.5,532.67 L628.5,533.88 L629.5,534.91 L630.5,535.8 L631.5,536.55 L632.5,537.19 L633.5,537.73 L634.5,538.17 L635.5,538.55 L636.5,538.86 L637.5,539.12 L638.5,539.33 L639.5,539.5 L640.5,539.65 L641.5,539.76 L642.5,539.86 L642.5,540.5 L527.5,540.5 Z" fill="#c4c4ff"/>
<path d="M527.5,539.93 L528.5,539.89 L529.5,539.86 L530.5,539.81 L531.5,539.76 L532.5,539.7 L533.5,539.63 L534.5,539.55 L535.5,539.45 L536.5,539.33 L537.5,539.19 L538.5,539.02 L539.5,538.82 L540.5,538.58 L541.5,538.3 L542.5,537.97 L543.5,537.58 L544.5,537.12 L545.5,536.58 L546.5,535.95 L547.5,535.22 L548.5,534.38 L549.5,533.41 L550.5,532.29 L551.5,531.01 L552.5,529.55 L553.5,527.9 L554.5,526.04 L555.5,523.94 L556.5,521.6 L557.5,518.99 L558.5,516.1 L559.5,512.91 L560.5,509.41 L561.5,505.59 L562.5,501.43 L563.5,496.94 L564.5,492.11 L565.5,486.94 L566.5,481.44 L567.5,475.62 L568.5,469.5 L569.5,463.1 L570.5,456.45 L571.5,449.58 L572.5,442.53 L573.5,435.34 L574.5,428.07 L575.5,420.76 L576.5,413.48 L577.5,406.12 L578.5,398.66 L579.5,391.9 L580.5,385.89 L581.5,379.72 L582.5,373.96 L583.5,368.69 L584.5,363.97 L585.5,359.85 L586.5,356.39 L587.5,353.62 L588.5,351.59 L589.5,350.31 L590.5,349.82 L591.5,350.15 L592.5,351.4 L593.5,353.55 L594.5,356.56 L595.5,360.39 L596.5,364.98 L597.5,370.28 L598.5,376.21 L599.5,382.68 L600.5,389.62 L601.5,396.94 L602.5,404.55 L603.5,412.36 L604.5,420.3 L605.5,428.27 L606.5,436.21 L607.5,444.04 L608.5,451.7 L609.5,459.14 L610.5,466.3 L611.5,473.15 L612.5,479.64 L613.5,485.77 L614.5,491.5 L615.5,496.83 L616.5,501.76 L617.5,506.29 L618.5,510.42 L619.5,514.17 L620.5,517.55 L621.5,520.58 L622.5,523.29 L623.5,525.69 L624.5,527.8 L625.5,529.65 L626.5,531.27 L627.5,532.67 L628.5,533.88 L629.5,534.91 L630.5,535.8 L631.5,536.55 L632.5,537.19 L633.5,537.73 L634.5,538.17 L635.5,538.55 L636.5,538.86 L637.5,539.12 L638.5,539.33 L639.5,539.5 L640.5,539.65 L641.5,539.76 L642.5,539.86" fill="none" stroke="#1e1ef0" stroke-width="1.5"/>
<path d="M569.5,539.94 L570.5,539.78 L571.5,539.58 L572.5,539.34 L573.5,539.05 L574.5,538.69 L575.5,538.26 L576.5,537.74 L577.5,537.13 L578.5,536.42 L579.5,535.58 L580.5,534.61 L581.5,533.5 L582.5,532.24 L583.5,530.82 L584.5,529.22 L585.5,527.45 L586.5,525.5 L587.5,523.38 L588.5,521.09 L589.5,518.64 L590.5,516.05 L591.5,513.33 L592.5,510.51 L593.5,507.63 L594.5,504.71 L595.5,501.79 L596.5,498.91 L597.5,496.12 L598.5,493.46 L599.5,490.97 L600.5,488.71 L601.5,486.7 L602.5,484.99 L603.5,483.62 L604.5,482.59 L605.5,481.95 L606.5,481.7 L607.5,481.84 L608.5,482.35 L609.5,483.23 L610.5,484.46 L611.5,486.03 L612.5,487.88 L613.5,490.01 L614.5,492.36 L615.5,494.9 L616.5,497.58 L617.5,500.37 L618.5,503.21 L619.5,506.08 L620.5,508.94 L621.5,511.74 L622.5,514.46 L623.5,517.08 L624.5,519.57 L625.5,521.92 L626.5,524.11 L627.5,526.14 L628.5,527.99 L629.5,529.68 L630.5,531.2 L631.5,532.56 L632.5,533.76 L633.5,534.82 L634.5,535.74 L635.5,536.54 L636.5,537.23 L637.5,537.81 L638.5,538.3 L639.5,538.72 L640.5,539.07 L641.5,539.35 L642.5,539.59 L643.5,539.78 L643.5,540.5 L569.5,540.5 Z" fill="rgba(110,110,110,0.5)"/>
<path d="M569.5,539.94 L570.5,539.78 L571.5,539.58 L572.5,539.34 L573.5,539.05 L574.5,538.69 L575.5,538.26 L576.5,537.74 L577.5,537.13 L578.5,536.42 L579.5,535.58 L580.5,534.61 L581.5,533.5 L582.5,532.24 L583.5,530.82 L584.5,529.22 L585.5,527.45 L586.5,525.5 L587.5,523.38 L588.5,521.09 L589.5,518.64 L590.5,516.05 L591.5,513.33 L592.5,510.51 L593.5,507.63 L594.5,504.71 L595.5,501.79 L596.5,498.91 L597.5,496.12 L598.5,493.46 L599.5,490.97 L600.5,488.71 L601.5,486.7 L602.5,484.99 L603.5,483.62 L604.5,482.59 L605.5,481.95 L606.5,481.7 L607.5,481.84 L608.5,482.35 L609.5,483.23 L610.5,484.46 L611.5,486.03 L612.5,487.88 L613.5,490.01 L614.5,492.36 L615.5,494.9 L616.5,497.58 L617.5,500.37 L618.5,503.21 L619.5,506.08 L620.5,508.94 L621.5,511.74 L622.5,514.46 L623.5,517.08 L624.5,519.57 L625.5,521.92 L626.5,524.11 L627.5,526.14 L628.5,527.99 L629.5,529.68 L630.5,531.2 L631.5,532.56 L632.5,533.76 L633.5,534.82 L634.5,535.74 L635.5,536.54 L636.5,537.23 L637.5,537.81 L638.5,538.3 L639.5,538.72 L640.5,539.07 L641.5,539.35 L642.5,539.59 L643.5,539.78" fill="none" stroke="#000" stroke-width="1.4"/>
<path d="M485.5,541.1 L486.5,541.1 L487.5,541.1 L488.5,541.1 L489.5,541.1 L490.5,541.1 L491.5,541.1 L492.5,541.1 L493.5,541.1 L494.5,541.1 L495.5,541.1 L496.5,541.1 L497.5,541.1 L498.5,541.1 L499.5,541.1 L500.5,541.1 L501.5,541.1 L502.5,541.1 L503.5,541.1 L504.5,541.1 L505.5,541.1 L506.5,541.1 L507.5,541.1 L508.5,541.1 L509.5,541.1 L510.5,541.1 L511.5,541.09 L512.5,541.09 L513.5,541.09 L514.5,541.09 L515.5,541.08 L516.5,541.08 L517.5,541.08 L518.5,541.07 L519.5,541.06 L520.5,541.05 L521.5,541.04 L522.5,541.03 L523.5,541.01 L524.5,540.99 L525.5,540.97 L526.5,540.94 L527.5,540.9 L528.5,540.86 L529.5,540.81 L530.5,540.75 L531.5,540.68 L532.5,540.59 L533.5,540.49 L534.5,540.37 L535.5,540.23 L536.5,540.07 L537.5,539.88 L538.5,539.65 L539.5,539.39 L540.5,539.09 L541.5,538.73 L542.5,538.33 L543.5,537.86 L544.5,537.32 L545.5,536.7 L546.5,535.99 L547.5,535.18 L548.5,534.27 L549.5,533.23 L550.5,532.05 L551.5,530.73 L552.5,529.24 L553.5,527.58 L554.5,525.72 L555.5,523.65 L556.5,521.36 L557.5,518.82 L558.5,516.02 L559.5,512.95 L560.5,509.59 L561.5,505.93 L562.5,501.95 L563.5,497.65 L564.5,493.01 L565.5,488.03 L566.5,482.71 L567.5,477.05 L568.5,471.06 L569.5,464.74 L570.5,458.11 L571.5,451.18 L572.5,443.99 L573.5,436.56 L574.5,428.93 L575.5,421.14 L576.5,413.23 L577.5,405.26 L578.5,397.29 L579.5,389.36 L580.5,381.54 L581.5,373.91 L582.5,366.53 L583.5,359.46 L584.5,352.77 L585.5,346.54 L586.5,340.82 L587.5,335.68 L588.5,331.17 L589.5,327.35 L590.5,324.26 L591.5,321.93 L592.5,320.4 L593.5,319.68 L594.5,319.79 L595.5,320.72 L596.5,322.47 L597.5,325.03 L598.5,328.35 L599.5,332.42 L600.5,337.18 L601.5,342.59 L602.5,348.59 L603.5,355.11 L604.5,362.09 L605.5,369.47 L606.5,377.16 L607.5,385.11 L608.5,393.23 L609.5,401.46 L610.5,409.73 L611.5,417.98 L612.5,426.14 L613.5,434.17 L614.5,442.01 L615.5,449.62 L616.5,456.96 L617.5,464 L618.5,470.72 L619.5,477.08 L620.5,483.09 L621.5,488.72 L622.5,493.98 L623.5,498.87 L624.5,503.38 L625.5,507.54 L626.5,511.34 L627.5,514.81 L628.5,517.95 L629.5,520.79 L630.5,523.34 L631.5,525.63 L632.5,527.67 L633.5,529.48 L634.5,531.07 L635.5,532.48 L636.5,533.72 L637.5,534.79 L638.5,535.73 L639.5,536.55 L640.5,537.25 L641.5,537.85 L642.5,538.37 L643.5,538.81 L644.5,539.19 L645.5,539.51 L646.5,539.78 L647.5,540 L648.5,540.19 L649.5,540.35 L650.5,540.49 L651.5,540.6 L652.5,540.69 L653.5,540.77 L654.5,540.83 L655.5,540.88 L656.5,540.92 L657.5,540.96 L658.5,540.98 L659.5,541.01 L660.5,541.03 L661.5,541.04 L662.5,541.05 L663.5,541.06 L664.5,541.07 L665.5,541.08 L666.5,541.08 L667.5,541.09 L668.5,541.09 L669.5,541.09 L670.5,541.09 L671.5,541.09 L672.5,541.1 L673.5,541.1 L674.5,541.1 L675.5,541.1 L676.5,541.1 L677.5,541.1 L678,541.1" fill="none" stroke="#f00" stroke-width="1.4"/>
<g fill="#000"><circle cx="486.7" cy="540.2" r="1.05"/><circle cx="488.86" cy="540.2" r="1.05"/><circle cx="491.02" cy="540.2" r="1.05"/><circle cx="493.18" cy="540.2" r="1.05"/><circle cx="495.34" cy="540.2" r="1.05"/><circle cx="497.5" cy="540.2" r="1.05"/><circle cx="499.66" cy="540.2" r="1.05"/><circle cx="501.82" cy="540.2" r="1.05"/><circle cx="503.98" cy="540.2" r="1.05"/><circle cx="506.14" cy="540.2" r="1.05"/><circle cx="508.3" cy="540.2" r="1.05"/><circle cx="510.46" cy="540.2" r="1.05"/><circle cx="512.62" cy="540.2" r="1.05"/><circle cx="514.78" cy="540.2" r="1.05"/><circle cx="516.94" cy="540.2" r="1.05"/><circle cx="519.1" cy="540.2" r="1.05"/><circle cx="521.26" cy="540.2" r="1.05"/><circle cx="523.42" cy="540.2" r="1.05"/><circle cx="525.58" cy="540.2" r="1.05"/><circle cx="527.74" cy="540.2" r="1.05"/><circle cx="529.9" cy="540.2" r="1.05"/><circle cx="532.06" cy="540.2" r="1.05"/><circle cx="534.22" cy="540.2" r="1.05"/><circle cx="536.38" cy="540.2" r="1.05"/><circle cx="538.54" cy="540.2" r="1.05"/><circle cx="540.7" cy="540.03" r="1.05"/><circle cx="542.86" cy="539.28" r="1.05"/><circle cx="545.02" cy="537.46" r="1.05"/><circle cx="547.18" cy="536.29" r="1.05"/><circle cx="549.34" cy="533.63" r="1.05"/><circle cx="551.5" cy="531.27" r="1.05"/><circle cx="553.66" cy="527.21" r="1.05"/><circle cx="555.82" cy="522.86" r="1.05"/><circle cx="557.98" cy="517.59" r="1.05"/><circle cx="560.14" cy="510.58" r="1.05"/><circle cx="562.3" cy="502.96" r="1.05"/><circle cx="564.46" cy="493.11" r="1.05"/><circle cx="566.62" cy="482.65" r="1.05"/><circle cx="568.78" cy="469.49" r="1.05"/><circle cx="570.94" cy="455.68" r="1.05"/><circle cx="573.1" cy="440.55" r="1.05"/><circle cx="575.26" cy="423.35" r="1.05"/><circle cx="577.42" cy="405.93" r="1.05"/><circle cx="579.58" cy="388.46" r="1.05"/><circle cx="581.74" cy="371.63" r="1.05"/><circle cx="583.9" cy="357.11" r="1.05"/><circle cx="586.06" cy="343.32" r="1.05"/><circle cx="588.22" cy="331.96" r="1.05"/><circle cx="590.38" cy="324.88" r="1.05"/><circle cx="592.54" cy="320.67" r="1.05"/><circle cx="594.7" cy="319.38" r="1.05"/><circle cx="596.86" cy="323.91" r="1.05"/><circle cx="599.02" cy="330.12" r="1.05"/><circle cx="601.18" cy="340.31" r="1.05"/><circle cx="603.34" cy="354.21" r="1.05"/><circle cx="605.5" cy="369.2" r="1.05"/><circle cx="607.66" cy="386.58" r="1.05"/><circle cx="609.82" cy="404.41" r="1.05"/><circle cx="611.98" cy="421.37" r="1.05"/><circle cx="614.14" cy="439.04" r="1.05"/><circle cx="616.3" cy="455.81" r="1.05"/><circle cx="618.46" cy="470.57" r="1.05"/><circle cx="620.62" cy="483.4" r="1.05"/><circle cx="622.78" cy="495.18" r="1.05"/><circle cx="624.94" cy="506.21" r="1.05"/><circle cx="627.1" cy="513.57" r="1.05"/><circle cx="629.26" cy="520.34" r="1.05"/><circle cx="631.42" cy="526.25" r="1.05"/><circle cx="633.58" cy="529.12" r="1.05"/><circle cx="635.74" cy="532.38" r="1.05"/><circle cx="637.9" cy="535.76" r="1.05"/><circle cx="640.06" cy="536.88" r="1.05"/><circle cx="642.22" cy="538.7" r="1.05"/><circle cx="644.38" cy="539.51" r="1.05"/><circle cx="646.54" cy="540.2" r="1.05"/><circle cx="648.7" cy="540.2" r="1.05"/><circle cx="650.86" cy="540.2" r="1.05"/><circle cx="653.02" cy="540.2" r="1.05"/><circle cx="655.18" cy="540.2" r="1.05"/><circle cx="657.34" cy="540.2" r="1.05"/><circle cx="659.5" cy="540.2" r="1.05"/><circle cx="661.66" cy="540.2" r="1.05"/><circle cx="663.82" cy="540.2" r="1.05"/><circle cx="665.98" cy="540.2" r="1.05"/><circle cx="668.14" cy="540.2" r="1.05"/><circle cx="670.3" cy="540.2" r="1.05"/><circle cx="672.46" cy="540.2" r="1.05"/><circle cx="674.62" cy="540.2" r="1.05"/><circle cx="676.78" cy="540.2" r="1.05"/></g></g>
<text x="127.5" y="16.4" font-family='"Liberation Serif", serif' font-size="21.5" font-weight="bold" fill="#000" text-anchor="start" textLength="95" lengthAdjust="spacingAndGlyphs" stroke="#000" stroke-width="0.3">As-Grown</text>
<text x="341.8" y="16" font-family='"Liberation Serif", serif' font-size="21.5" font-weight="bold" fill="#000" text-anchor="start" textLength="75" lengthAdjust="spacingAndGlyphs" stroke="#000" stroke-width="0.3">Formed</text>
<text x="560.5" y="16.2" font-family='"Liberation Serif", serif' font-size="21.5" font-weight="bold" fill="#000" text-anchor="start" textLength="54.5" lengthAdjust="spacingAndGlyphs" stroke="#000" stroke-width="0.3">Reset</text>
<text x="2.3" y="17.7" font-family='"Liberation Serif", serif' font-size="21" font-weight="normal" fill="#000" text-anchor="start">a)</text>
<text x="1.8" y="285" font-family='"Liberation Serif", serif' font-size="21" font-weight="normal" fill="#000" text-anchor="start">b)</text>
<text transform="translate(43.6,381.5) rotate(-90)" font-family='"Liberation Serif", serif' font-size="20.5" font-weight="bold" textLength="206" lengthAdjust="spacingAndGlyphs">Intensity (arb. units)</text>
<text x="278.3" y="591.5" font-family='"Liberation Serif", serif' font-size="21" font-weight="bold" fill="#000" text-anchor="start" textLength="198" lengthAdjust="spacingAndGlyphs">Binding energy (eV)</text>
<text x="72" y="280.1" font-family='"Liberation Serif", serif' font-size="18" font-weight="normal" fill="#000" text-anchor="middle" stroke="#000" stroke-width="0.45">588</text>
<text x="145.5" y="280.1" font-family='"Liberation Serif", serif' font-size="18" font-weight="normal" fill="#000" text-anchor="middle" stroke="#000" stroke-width="0.45">585</text>
<text x="219" y="280.1" font-family='"Liberation Serif", serif' font-size="18" font-weight="normal" fill="#000" text-anchor="middle" stroke="#000" stroke-width="0.45">582</text>
<text x="273.8" y="280.1" font-family='"Liberation Serif", serif' font-size="18" font-weight="normal" fill="#000" text-anchor="middle" stroke="#000" stroke-width="0.45">588</text>
<text x="347.3" y="280.1" font-family='"Liberation Serif", serif' font-size="18" font-weight="normal" fill="#000" text-anchor="middle" stroke="#000" stroke-width="0.45">585</text>
<text x="420.8" y="280.1" font-family='"Liberation Serif", serif' font-size="18" font-weight="normal" fill="#000" text-anchor="middle" stroke="#000" stroke-width="0.45">582</text>
<text x="485.4" y="280.1" font-family='"Liberation Serif", serif' font-size="18" font-weight="normal" fill="#000" text-anchor="middle" stroke="#000" stroke-width="0.45">588</text>
<text x="558.9" y="280.1" font-family='"Liberation Serif", serif' font-size="18" font-weight="normal" fill="#000" text-anchor="middle" stroke="#000" stroke-width="0.45">585</text>
<text x="632.4" y="280.1" font-family='"Liberation Serif", serif' font-size="18" font-weight="normal" fill="#000" text-anchor="middle" stroke="#000" stroke-width="0.45">582</text>
<text x="114.11" y="560.2" font-family='"Liberation Serif", serif' font-size="18.25" font-weight="normal" fill="#000" text-anchor="middle" stroke="#000" stroke-width="0.2">1566</text>
<text x="178.78" y="560.2" font-family='"Liberation Serif", serif' font-size="18.25" font-weight="normal" fill="#000" text-anchor="middle" stroke="#000" stroke-width="0.2">1563</text>
<text x="243.44" y="560.2" font-family='"Liberation Serif", serif' font-size="18.25" font-weight="normal" fill="#000" text-anchor="middle" stroke="#000" stroke-width="0.2">1560</text>
<text x="321.11" y="560.2" font-family='"Liberation Serif", serif' font-size="18.25" font-weight="normal" fill="#000" text-anchor="middle" stroke="#000" stroke-width="0.2">1566</text>
<text x="385.78" y="560.2" font-family='"Liberation Serif", serif' font-size="18.25" font-weight="normal" fill="#000" text-anchor="middle" stroke="#000" stroke-width="0.2">1563</text>
<text x="450.44" y="560.2" font-family='"Liberation Serif", serif' font-size="18.25" font-weight="normal" fill="#000" text-anchor="middle" stroke="#000" stroke-width="0.2">1560</text>
<text x="528" y="560.2" font-family='"Liberation Serif", serif' font-size="18.25" font-weight="normal" fill="#000" text-anchor="middle" stroke="#000" stroke-width="0.2">1566</text>
<text x="592.5" y="560.2" font-family='"Liberation Serif", serif' font-size="18.25" font-weight="normal" fill="#000" text-anchor="middle" stroke="#000" stroke-width="0.2">1563</text>
<text x="657" y="560.2" font-family='"Liberation Serif", serif' font-size="18.25" font-weight="normal" fill="#000" text-anchor="middle" stroke="#000" stroke-width="0.2">1560</text>
<text x="75.8" y="56.2" font-family='"Liberation Serif", serif' font-size="29.5" font-weight="bold" fill="#000" text-anchor="start" textLength="55" lengthAdjust="spacingAndGlyphs" stroke="#000" stroke-width="0.4">Te 3</text>
<text x="130.3" y="56.2" font-family='"Liberation Serif", serif' font-size="31" font-weight="bold" font-style="italic" stroke="#000" stroke-width="0.7">d</text>
<text x="148.6" y="66" font-family='"Liberation Serif", serif' font-size="18.5" font-weight="bold" fill="#000" text-anchor="start" textLength="27.5" lengthAdjust="spacingAndGlyphs" stroke="#000" stroke-width="0.3">3/2</text>
<text x="76.8" y="329.8" font-family='"Liberation Serif", serif' font-size="34.5" font-weight="bold" stroke="#000" stroke-width="0.5">Al 1<tspan font-style="italic">s</tspan></text>
<circle cx="94.9" cy="86.8" r="1.1" fill="#000"/>
<path d="M76.2,114.9 H99.7" stroke="#ff4a4a" stroke-width="1.8"/>
<text x="117.2" y="92" font-family='"Liberation Serif", serif' font-size="15.5" font-weight="bold" fill="#000" text-anchor="start" textLength="65" lengthAdjust="spacingAndGlyphs" stroke="#000" stroke-width="0.35">Raw data</text>
<text x="106.5" y="122.1" font-family='"Liberation Serif", serif' font-size="15.5" font-weight="bold" fill="#000" text-anchor="start" textLength="54" lengthAdjust="spacingAndGlyphs" stroke="#000" stroke-width="0.35">Exp. Fit</text>
<text x="415.5" y="100.6" font-family='"Liberation Serif", serif' font-size="21.5" font-weight="bold" fill="#00f" text-anchor="start" textLength="44" lengthAdjust="spacingAndGlyphs" stroke="#00f" stroke-width="0.3">TiTe</text>
<text x="339.8" y="193" font-family='"Liberation Serif", serif' font-size="21" font-weight="bold" fill="#000" text-anchor="start" textLength="24.2" lengthAdjust="spacingAndGlyphs" stroke="#000" stroke-width="0.3">Te</text>
<text x="291.3" y="230.7" font-family='"Liberation Serif", serif' font-size="21" font-weight="bold" fill="#008000" stroke="#008000" stroke-width="0.3"><tspan textLength="37.1" lengthAdjust="spacingAndGlyphs">TeO</tspan><tspan font-size="14" dy="7.3">x</tspan></text>
<g font-family='"Liberation Sans", sans-serif' font-weight="bold" fill="#00f"><text x="313.6" y="364" font-size="21.2">Al</text><text x="333.4" y="369.2" font-size="20">2</text><text x="343.6" y="364" font-size="21.2">O</text><text x="359.9" y="369.2" font-size="20">3</text></g>
<g font-family='"Liberation Sans", sans-serif' font-weight="bold" fill="#000"><text x="416.9" y="474.9" font-size="20.8" textLength="34.6" lengthAdjust="spacingAndGlyphs">AlO</text><text x="452.3" y="480.4" font-size="20.8">x</text></g>
</svg>
</body></html>
